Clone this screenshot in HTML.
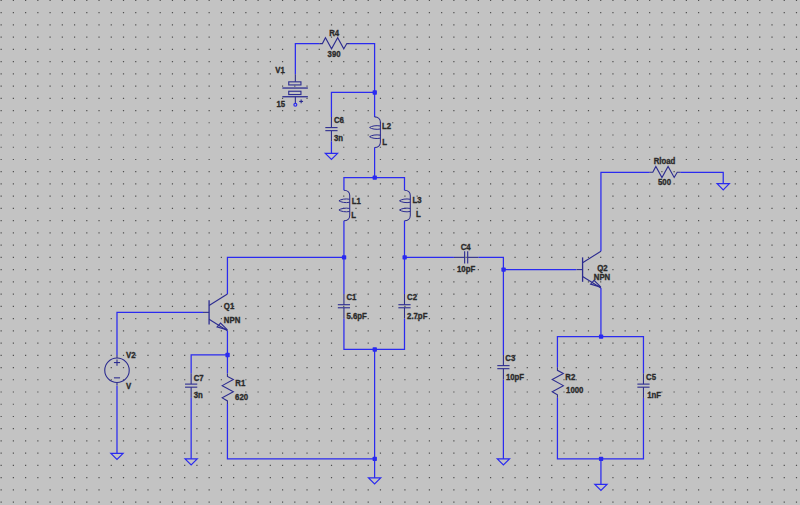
<!DOCTYPE html>
<html><head><meta charset="utf-8"><title>LTspice schematic</title>
<style>html,body{margin:0;padding:0;background:#c3c3c3;overflow:hidden;}svg{display:block;}</style>
</head><body>
<svg width="800" height="505" viewBox="0 0 800 505">
<rect width="800" height="505" fill="#c3c3c3"/>
<path d="M0.55 -0.21h1.2v1.2h-1.2zM0.55 12.03h1.2v1.2h-1.2zM0.55 24.26h1.2v1.2h-1.2zM0.55 36.50h1.2v1.2h-1.2zM0.55 48.74h1.2v1.2h-1.2zM0.55 60.98h1.2v1.2h-1.2zM0.55 73.22h1.2v1.2h-1.2zM0.55 85.45h1.2v1.2h-1.2zM0.55 97.69h1.2v1.2h-1.2zM0.55 109.93h1.2v1.2h-1.2zM0.55 122.17h1.2v1.2h-1.2zM0.55 134.41h1.2v1.2h-1.2zM0.55 146.64h1.2v1.2h-1.2zM0.55 158.88h1.2v1.2h-1.2zM0.55 171.12h1.2v1.2h-1.2zM0.55 183.36h1.2v1.2h-1.2zM0.55 195.60h1.2v1.2h-1.2zM0.55 207.83h1.2v1.2h-1.2zM0.55 220.07h1.2v1.2h-1.2zM0.55 232.31h1.2v1.2h-1.2zM0.55 244.55h1.2v1.2h-1.2zM0.55 256.79h1.2v1.2h-1.2zM0.55 269.02h1.2v1.2h-1.2zM0.55 281.26h1.2v1.2h-1.2zM0.55 293.50h1.2v1.2h-1.2zM0.55 305.74h1.2v1.2h-1.2zM0.55 317.98h1.2v1.2h-1.2zM0.55 330.21h1.2v1.2h-1.2zM0.55 342.45h1.2v1.2h-1.2zM0.55 354.69h1.2v1.2h-1.2zM0.55 366.93h1.2v1.2h-1.2zM0.55 379.17h1.2v1.2h-1.2zM0.55 391.40h1.2v1.2h-1.2zM0.55 403.64h1.2v1.2h-1.2zM0.55 415.88h1.2v1.2h-1.2zM0.55 428.12h1.2v1.2h-1.2zM0.55 440.36h1.2v1.2h-1.2zM0.55 452.59h1.2v1.2h-1.2zM0.55 464.83h1.2v1.2h-1.2zM0.55 477.07h1.2v1.2h-1.2zM0.55 489.31h1.2v1.2h-1.2zM0.55 501.55h1.2v1.2h-1.2zM12.78 -0.21h1.2v1.2h-1.2zM12.78 12.03h1.2v1.2h-1.2zM12.78 24.26h1.2v1.2h-1.2zM12.78 36.50h1.2v1.2h-1.2zM12.78 48.74h1.2v1.2h-1.2zM12.78 60.98h1.2v1.2h-1.2zM12.78 73.22h1.2v1.2h-1.2zM12.78 85.45h1.2v1.2h-1.2zM12.78 97.69h1.2v1.2h-1.2zM12.78 109.93h1.2v1.2h-1.2zM12.78 122.17h1.2v1.2h-1.2zM12.78 134.41h1.2v1.2h-1.2zM12.78 146.64h1.2v1.2h-1.2zM12.78 158.88h1.2v1.2h-1.2zM12.78 171.12h1.2v1.2h-1.2zM12.78 183.36h1.2v1.2h-1.2zM12.78 195.60h1.2v1.2h-1.2zM12.78 207.83h1.2v1.2h-1.2zM12.78 220.07h1.2v1.2h-1.2zM12.78 232.31h1.2v1.2h-1.2zM12.78 244.55h1.2v1.2h-1.2zM12.78 256.79h1.2v1.2h-1.2zM12.78 269.02h1.2v1.2h-1.2zM12.78 281.26h1.2v1.2h-1.2zM12.78 293.50h1.2v1.2h-1.2zM12.78 305.74h1.2v1.2h-1.2zM12.78 317.98h1.2v1.2h-1.2zM12.78 330.21h1.2v1.2h-1.2zM12.78 342.45h1.2v1.2h-1.2zM12.78 354.69h1.2v1.2h-1.2zM12.78 366.93h1.2v1.2h-1.2zM12.78 379.17h1.2v1.2h-1.2zM12.78 391.40h1.2v1.2h-1.2zM12.78 403.64h1.2v1.2h-1.2zM12.78 415.88h1.2v1.2h-1.2zM12.78 428.12h1.2v1.2h-1.2zM12.78 440.36h1.2v1.2h-1.2zM12.78 452.59h1.2v1.2h-1.2zM12.78 464.83h1.2v1.2h-1.2zM12.78 477.07h1.2v1.2h-1.2zM12.78 489.31h1.2v1.2h-1.2zM12.78 501.55h1.2v1.2h-1.2zM25.02 -0.21h1.2v1.2h-1.2zM25.02 12.03h1.2v1.2h-1.2zM25.02 24.26h1.2v1.2h-1.2zM25.02 36.50h1.2v1.2h-1.2zM25.02 48.74h1.2v1.2h-1.2zM25.02 60.98h1.2v1.2h-1.2zM25.02 73.22h1.2v1.2h-1.2zM25.02 85.45h1.2v1.2h-1.2zM25.02 97.69h1.2v1.2h-1.2zM25.02 109.93h1.2v1.2h-1.2zM25.02 122.17h1.2v1.2h-1.2zM25.02 134.41h1.2v1.2h-1.2zM25.02 146.64h1.2v1.2h-1.2zM25.02 158.88h1.2v1.2h-1.2zM25.02 171.12h1.2v1.2h-1.2zM25.02 183.36h1.2v1.2h-1.2zM25.02 195.60h1.2v1.2h-1.2zM25.02 207.83h1.2v1.2h-1.2zM25.02 220.07h1.2v1.2h-1.2zM25.02 232.31h1.2v1.2h-1.2zM25.02 244.55h1.2v1.2h-1.2zM25.02 256.79h1.2v1.2h-1.2zM25.02 269.02h1.2v1.2h-1.2zM25.02 281.26h1.2v1.2h-1.2zM25.02 293.50h1.2v1.2h-1.2zM25.02 305.74h1.2v1.2h-1.2zM25.02 317.98h1.2v1.2h-1.2zM25.02 330.21h1.2v1.2h-1.2zM25.02 342.45h1.2v1.2h-1.2zM25.02 354.69h1.2v1.2h-1.2zM25.02 366.93h1.2v1.2h-1.2zM25.02 379.17h1.2v1.2h-1.2zM25.02 391.40h1.2v1.2h-1.2zM25.02 403.64h1.2v1.2h-1.2zM25.02 415.88h1.2v1.2h-1.2zM25.02 428.12h1.2v1.2h-1.2zM25.02 440.36h1.2v1.2h-1.2zM25.02 452.59h1.2v1.2h-1.2zM25.02 464.83h1.2v1.2h-1.2zM25.02 477.07h1.2v1.2h-1.2zM25.02 489.31h1.2v1.2h-1.2zM25.02 501.55h1.2v1.2h-1.2zM37.25 -0.21h1.2v1.2h-1.2zM37.25 12.03h1.2v1.2h-1.2zM37.25 24.26h1.2v1.2h-1.2zM37.25 36.50h1.2v1.2h-1.2zM37.25 48.74h1.2v1.2h-1.2zM37.25 60.98h1.2v1.2h-1.2zM37.25 73.22h1.2v1.2h-1.2zM37.25 85.45h1.2v1.2h-1.2zM37.25 97.69h1.2v1.2h-1.2zM37.25 109.93h1.2v1.2h-1.2zM37.25 122.17h1.2v1.2h-1.2zM37.25 134.41h1.2v1.2h-1.2zM37.25 146.64h1.2v1.2h-1.2zM37.25 158.88h1.2v1.2h-1.2zM37.25 171.12h1.2v1.2h-1.2zM37.25 183.36h1.2v1.2h-1.2zM37.25 195.60h1.2v1.2h-1.2zM37.25 207.83h1.2v1.2h-1.2zM37.25 220.07h1.2v1.2h-1.2zM37.25 232.31h1.2v1.2h-1.2zM37.25 244.55h1.2v1.2h-1.2zM37.25 256.79h1.2v1.2h-1.2zM37.25 269.02h1.2v1.2h-1.2zM37.25 281.26h1.2v1.2h-1.2zM37.25 293.50h1.2v1.2h-1.2zM37.25 305.74h1.2v1.2h-1.2zM37.25 317.98h1.2v1.2h-1.2zM37.25 330.21h1.2v1.2h-1.2zM37.25 342.45h1.2v1.2h-1.2zM37.25 354.69h1.2v1.2h-1.2zM37.25 366.93h1.2v1.2h-1.2zM37.25 379.17h1.2v1.2h-1.2zM37.25 391.40h1.2v1.2h-1.2zM37.25 403.64h1.2v1.2h-1.2zM37.25 415.88h1.2v1.2h-1.2zM37.25 428.12h1.2v1.2h-1.2zM37.25 440.36h1.2v1.2h-1.2zM37.25 452.59h1.2v1.2h-1.2zM37.25 464.83h1.2v1.2h-1.2zM37.25 477.07h1.2v1.2h-1.2zM37.25 489.31h1.2v1.2h-1.2zM37.25 501.55h1.2v1.2h-1.2zM49.49 -0.21h1.2v1.2h-1.2zM49.49 12.03h1.2v1.2h-1.2zM49.49 24.26h1.2v1.2h-1.2zM49.49 36.50h1.2v1.2h-1.2zM49.49 48.74h1.2v1.2h-1.2zM49.49 60.98h1.2v1.2h-1.2zM49.49 73.22h1.2v1.2h-1.2zM49.49 85.45h1.2v1.2h-1.2zM49.49 97.69h1.2v1.2h-1.2zM49.49 109.93h1.2v1.2h-1.2zM49.49 122.17h1.2v1.2h-1.2zM49.49 134.41h1.2v1.2h-1.2zM49.49 146.64h1.2v1.2h-1.2zM49.49 158.88h1.2v1.2h-1.2zM49.49 171.12h1.2v1.2h-1.2zM49.49 183.36h1.2v1.2h-1.2zM49.49 195.60h1.2v1.2h-1.2zM49.49 207.83h1.2v1.2h-1.2zM49.49 220.07h1.2v1.2h-1.2zM49.49 232.31h1.2v1.2h-1.2zM49.49 244.55h1.2v1.2h-1.2zM49.49 256.79h1.2v1.2h-1.2zM49.49 269.02h1.2v1.2h-1.2zM49.49 281.26h1.2v1.2h-1.2zM49.49 293.50h1.2v1.2h-1.2zM49.49 305.74h1.2v1.2h-1.2zM49.49 317.98h1.2v1.2h-1.2zM49.49 330.21h1.2v1.2h-1.2zM49.49 342.45h1.2v1.2h-1.2zM49.49 354.69h1.2v1.2h-1.2zM49.49 366.93h1.2v1.2h-1.2zM49.49 379.17h1.2v1.2h-1.2zM49.49 391.40h1.2v1.2h-1.2zM49.49 403.64h1.2v1.2h-1.2zM49.49 415.88h1.2v1.2h-1.2zM49.49 428.12h1.2v1.2h-1.2zM49.49 440.36h1.2v1.2h-1.2zM49.49 452.59h1.2v1.2h-1.2zM49.49 464.83h1.2v1.2h-1.2zM49.49 477.07h1.2v1.2h-1.2zM49.49 489.31h1.2v1.2h-1.2zM49.49 501.55h1.2v1.2h-1.2zM61.73 -0.21h1.2v1.2h-1.2zM61.73 12.03h1.2v1.2h-1.2zM61.73 24.26h1.2v1.2h-1.2zM61.73 36.50h1.2v1.2h-1.2zM61.73 48.74h1.2v1.2h-1.2zM61.73 60.98h1.2v1.2h-1.2zM61.73 73.22h1.2v1.2h-1.2zM61.73 85.45h1.2v1.2h-1.2zM61.73 97.69h1.2v1.2h-1.2zM61.73 109.93h1.2v1.2h-1.2zM61.73 122.17h1.2v1.2h-1.2zM61.73 134.41h1.2v1.2h-1.2zM61.73 146.64h1.2v1.2h-1.2zM61.73 158.88h1.2v1.2h-1.2zM61.73 171.12h1.2v1.2h-1.2zM61.73 183.36h1.2v1.2h-1.2zM61.73 195.60h1.2v1.2h-1.2zM61.73 207.83h1.2v1.2h-1.2zM61.73 220.07h1.2v1.2h-1.2zM61.73 232.31h1.2v1.2h-1.2zM61.73 244.55h1.2v1.2h-1.2zM61.73 256.79h1.2v1.2h-1.2zM61.73 269.02h1.2v1.2h-1.2zM61.73 281.26h1.2v1.2h-1.2zM61.73 293.50h1.2v1.2h-1.2zM61.73 305.74h1.2v1.2h-1.2zM61.73 317.98h1.2v1.2h-1.2zM61.73 330.21h1.2v1.2h-1.2zM61.73 342.45h1.2v1.2h-1.2zM61.73 354.69h1.2v1.2h-1.2zM61.73 366.93h1.2v1.2h-1.2zM61.73 379.17h1.2v1.2h-1.2zM61.73 391.40h1.2v1.2h-1.2zM61.73 403.64h1.2v1.2h-1.2zM61.73 415.88h1.2v1.2h-1.2zM61.73 428.12h1.2v1.2h-1.2zM61.73 440.36h1.2v1.2h-1.2zM61.73 452.59h1.2v1.2h-1.2zM61.73 464.83h1.2v1.2h-1.2zM61.73 477.07h1.2v1.2h-1.2zM61.73 489.31h1.2v1.2h-1.2zM61.73 501.55h1.2v1.2h-1.2zM73.96 -0.21h1.2v1.2h-1.2zM73.96 12.03h1.2v1.2h-1.2zM73.96 24.26h1.2v1.2h-1.2zM73.96 36.50h1.2v1.2h-1.2zM73.96 48.74h1.2v1.2h-1.2zM73.96 60.98h1.2v1.2h-1.2zM73.96 73.22h1.2v1.2h-1.2zM73.96 85.45h1.2v1.2h-1.2zM73.96 97.69h1.2v1.2h-1.2zM73.96 109.93h1.2v1.2h-1.2zM73.96 122.17h1.2v1.2h-1.2zM73.96 134.41h1.2v1.2h-1.2zM73.96 146.64h1.2v1.2h-1.2zM73.96 158.88h1.2v1.2h-1.2zM73.96 171.12h1.2v1.2h-1.2zM73.96 183.36h1.2v1.2h-1.2zM73.96 195.60h1.2v1.2h-1.2zM73.96 207.83h1.2v1.2h-1.2zM73.96 220.07h1.2v1.2h-1.2zM73.96 232.31h1.2v1.2h-1.2zM73.96 244.55h1.2v1.2h-1.2zM73.96 256.79h1.2v1.2h-1.2zM73.96 269.02h1.2v1.2h-1.2zM73.96 281.26h1.2v1.2h-1.2zM73.96 293.50h1.2v1.2h-1.2zM73.96 305.74h1.2v1.2h-1.2zM73.96 317.98h1.2v1.2h-1.2zM73.96 330.21h1.2v1.2h-1.2zM73.96 342.45h1.2v1.2h-1.2zM73.96 354.69h1.2v1.2h-1.2zM73.96 366.93h1.2v1.2h-1.2zM73.96 379.17h1.2v1.2h-1.2zM73.96 391.40h1.2v1.2h-1.2zM73.96 403.64h1.2v1.2h-1.2zM73.96 415.88h1.2v1.2h-1.2zM73.96 428.12h1.2v1.2h-1.2zM73.96 440.36h1.2v1.2h-1.2zM73.96 452.59h1.2v1.2h-1.2zM73.96 464.83h1.2v1.2h-1.2zM73.96 477.07h1.2v1.2h-1.2zM73.96 489.31h1.2v1.2h-1.2zM73.96 501.55h1.2v1.2h-1.2zM86.20 -0.21h1.2v1.2h-1.2zM86.20 12.03h1.2v1.2h-1.2zM86.20 24.26h1.2v1.2h-1.2zM86.20 36.50h1.2v1.2h-1.2zM86.20 48.74h1.2v1.2h-1.2zM86.20 60.98h1.2v1.2h-1.2zM86.20 73.22h1.2v1.2h-1.2zM86.20 85.45h1.2v1.2h-1.2zM86.20 97.69h1.2v1.2h-1.2zM86.20 109.93h1.2v1.2h-1.2zM86.20 122.17h1.2v1.2h-1.2zM86.20 134.41h1.2v1.2h-1.2zM86.20 146.64h1.2v1.2h-1.2zM86.20 158.88h1.2v1.2h-1.2zM86.20 171.12h1.2v1.2h-1.2zM86.20 183.36h1.2v1.2h-1.2zM86.20 195.60h1.2v1.2h-1.2zM86.20 207.83h1.2v1.2h-1.2zM86.20 220.07h1.2v1.2h-1.2zM86.20 232.31h1.2v1.2h-1.2zM86.20 244.55h1.2v1.2h-1.2zM86.20 256.79h1.2v1.2h-1.2zM86.20 269.02h1.2v1.2h-1.2zM86.20 281.26h1.2v1.2h-1.2zM86.20 293.50h1.2v1.2h-1.2zM86.20 305.74h1.2v1.2h-1.2zM86.20 317.98h1.2v1.2h-1.2zM86.20 330.21h1.2v1.2h-1.2zM86.20 342.45h1.2v1.2h-1.2zM86.20 354.69h1.2v1.2h-1.2zM86.20 366.93h1.2v1.2h-1.2zM86.20 379.17h1.2v1.2h-1.2zM86.20 391.40h1.2v1.2h-1.2zM86.20 403.64h1.2v1.2h-1.2zM86.20 415.88h1.2v1.2h-1.2zM86.20 428.12h1.2v1.2h-1.2zM86.20 440.36h1.2v1.2h-1.2zM86.20 452.59h1.2v1.2h-1.2zM86.20 464.83h1.2v1.2h-1.2zM86.20 477.07h1.2v1.2h-1.2zM86.20 489.31h1.2v1.2h-1.2zM86.20 501.55h1.2v1.2h-1.2zM98.43 -0.21h1.2v1.2h-1.2zM98.43 12.03h1.2v1.2h-1.2zM98.43 24.26h1.2v1.2h-1.2zM98.43 36.50h1.2v1.2h-1.2zM98.43 48.74h1.2v1.2h-1.2zM98.43 60.98h1.2v1.2h-1.2zM98.43 73.22h1.2v1.2h-1.2zM98.43 85.45h1.2v1.2h-1.2zM98.43 97.69h1.2v1.2h-1.2zM98.43 109.93h1.2v1.2h-1.2zM98.43 122.17h1.2v1.2h-1.2zM98.43 134.41h1.2v1.2h-1.2zM98.43 146.64h1.2v1.2h-1.2zM98.43 158.88h1.2v1.2h-1.2zM98.43 171.12h1.2v1.2h-1.2zM98.43 183.36h1.2v1.2h-1.2zM98.43 195.60h1.2v1.2h-1.2zM98.43 207.83h1.2v1.2h-1.2zM98.43 220.07h1.2v1.2h-1.2zM98.43 232.31h1.2v1.2h-1.2zM98.43 244.55h1.2v1.2h-1.2zM98.43 256.79h1.2v1.2h-1.2zM98.43 269.02h1.2v1.2h-1.2zM98.43 281.26h1.2v1.2h-1.2zM98.43 293.50h1.2v1.2h-1.2zM98.43 305.74h1.2v1.2h-1.2zM98.43 317.98h1.2v1.2h-1.2zM98.43 330.21h1.2v1.2h-1.2zM98.43 342.45h1.2v1.2h-1.2zM98.43 354.69h1.2v1.2h-1.2zM98.43 366.93h1.2v1.2h-1.2zM98.43 379.17h1.2v1.2h-1.2zM98.43 391.40h1.2v1.2h-1.2zM98.43 403.64h1.2v1.2h-1.2zM98.43 415.88h1.2v1.2h-1.2zM98.43 428.12h1.2v1.2h-1.2zM98.43 440.36h1.2v1.2h-1.2zM98.43 452.59h1.2v1.2h-1.2zM98.43 464.83h1.2v1.2h-1.2zM98.43 477.07h1.2v1.2h-1.2zM98.43 489.31h1.2v1.2h-1.2zM98.43 501.55h1.2v1.2h-1.2zM110.67 -0.21h1.2v1.2h-1.2zM110.67 12.03h1.2v1.2h-1.2zM110.67 24.26h1.2v1.2h-1.2zM110.67 36.50h1.2v1.2h-1.2zM110.67 48.74h1.2v1.2h-1.2zM110.67 60.98h1.2v1.2h-1.2zM110.67 73.22h1.2v1.2h-1.2zM110.67 85.45h1.2v1.2h-1.2zM110.67 97.69h1.2v1.2h-1.2zM110.67 109.93h1.2v1.2h-1.2zM110.67 122.17h1.2v1.2h-1.2zM110.67 134.41h1.2v1.2h-1.2zM110.67 146.64h1.2v1.2h-1.2zM110.67 158.88h1.2v1.2h-1.2zM110.67 171.12h1.2v1.2h-1.2zM110.67 183.36h1.2v1.2h-1.2zM110.67 195.60h1.2v1.2h-1.2zM110.67 207.83h1.2v1.2h-1.2zM110.67 220.07h1.2v1.2h-1.2zM110.67 232.31h1.2v1.2h-1.2zM110.67 244.55h1.2v1.2h-1.2zM110.67 256.79h1.2v1.2h-1.2zM110.67 269.02h1.2v1.2h-1.2zM110.67 281.26h1.2v1.2h-1.2zM110.67 293.50h1.2v1.2h-1.2zM110.67 305.74h1.2v1.2h-1.2zM110.67 317.98h1.2v1.2h-1.2zM110.67 330.21h1.2v1.2h-1.2zM110.67 342.45h1.2v1.2h-1.2zM110.67 354.69h1.2v1.2h-1.2zM110.67 366.93h1.2v1.2h-1.2zM110.67 379.17h1.2v1.2h-1.2zM110.67 391.40h1.2v1.2h-1.2zM110.67 403.64h1.2v1.2h-1.2zM110.67 415.88h1.2v1.2h-1.2zM110.67 428.12h1.2v1.2h-1.2zM110.67 440.36h1.2v1.2h-1.2zM110.67 464.83h1.2v1.2h-1.2zM110.67 477.07h1.2v1.2h-1.2zM110.67 489.31h1.2v1.2h-1.2zM110.67 501.55h1.2v1.2h-1.2zM122.91 -0.21h1.2v1.2h-1.2zM122.91 12.03h1.2v1.2h-1.2zM122.91 24.26h1.2v1.2h-1.2zM122.91 36.50h1.2v1.2h-1.2zM122.91 48.74h1.2v1.2h-1.2zM122.91 60.98h1.2v1.2h-1.2zM122.91 73.22h1.2v1.2h-1.2zM122.91 85.45h1.2v1.2h-1.2zM122.91 97.69h1.2v1.2h-1.2zM122.91 109.93h1.2v1.2h-1.2zM122.91 122.17h1.2v1.2h-1.2zM122.91 134.41h1.2v1.2h-1.2zM122.91 146.64h1.2v1.2h-1.2zM122.91 158.88h1.2v1.2h-1.2zM122.91 171.12h1.2v1.2h-1.2zM122.91 183.36h1.2v1.2h-1.2zM122.91 195.60h1.2v1.2h-1.2zM122.91 207.83h1.2v1.2h-1.2zM122.91 220.07h1.2v1.2h-1.2zM122.91 232.31h1.2v1.2h-1.2zM122.91 244.55h1.2v1.2h-1.2zM122.91 256.79h1.2v1.2h-1.2zM122.91 269.02h1.2v1.2h-1.2zM122.91 281.26h1.2v1.2h-1.2zM122.91 293.50h1.2v1.2h-1.2zM122.91 305.74h1.2v1.2h-1.2zM122.91 317.98h1.2v1.2h-1.2zM122.91 330.21h1.2v1.2h-1.2zM122.91 342.45h1.2v1.2h-1.2zM122.91 354.69h1.2v1.2h-1.2zM122.91 366.93h1.2v1.2h-1.2zM122.91 379.17h1.2v1.2h-1.2zM122.91 391.40h1.2v1.2h-1.2zM122.91 403.64h1.2v1.2h-1.2zM122.91 415.88h1.2v1.2h-1.2zM122.91 428.12h1.2v1.2h-1.2zM122.91 440.36h1.2v1.2h-1.2zM122.91 464.83h1.2v1.2h-1.2zM122.91 477.07h1.2v1.2h-1.2zM122.91 489.31h1.2v1.2h-1.2zM122.91 501.55h1.2v1.2h-1.2zM135.14 -0.21h1.2v1.2h-1.2zM135.14 12.03h1.2v1.2h-1.2zM135.14 24.26h1.2v1.2h-1.2zM135.14 36.50h1.2v1.2h-1.2zM135.14 48.74h1.2v1.2h-1.2zM135.14 60.98h1.2v1.2h-1.2zM135.14 73.22h1.2v1.2h-1.2zM135.14 85.45h1.2v1.2h-1.2zM135.14 97.69h1.2v1.2h-1.2zM135.14 109.93h1.2v1.2h-1.2zM135.14 122.17h1.2v1.2h-1.2zM135.14 134.41h1.2v1.2h-1.2zM135.14 146.64h1.2v1.2h-1.2zM135.14 158.88h1.2v1.2h-1.2zM135.14 171.12h1.2v1.2h-1.2zM135.14 183.36h1.2v1.2h-1.2zM135.14 195.60h1.2v1.2h-1.2zM135.14 207.83h1.2v1.2h-1.2zM135.14 220.07h1.2v1.2h-1.2zM135.14 232.31h1.2v1.2h-1.2zM135.14 244.55h1.2v1.2h-1.2zM135.14 256.79h1.2v1.2h-1.2zM135.14 269.02h1.2v1.2h-1.2zM135.14 281.26h1.2v1.2h-1.2zM135.14 293.50h1.2v1.2h-1.2zM135.14 305.74h1.2v1.2h-1.2zM135.14 317.98h1.2v1.2h-1.2zM135.14 330.21h1.2v1.2h-1.2zM135.14 342.45h1.2v1.2h-1.2zM135.14 354.69h1.2v1.2h-1.2zM135.14 366.93h1.2v1.2h-1.2zM135.14 379.17h1.2v1.2h-1.2zM135.14 391.40h1.2v1.2h-1.2zM135.14 403.64h1.2v1.2h-1.2zM135.14 415.88h1.2v1.2h-1.2zM135.14 428.12h1.2v1.2h-1.2zM135.14 440.36h1.2v1.2h-1.2zM135.14 452.59h1.2v1.2h-1.2zM135.14 464.83h1.2v1.2h-1.2zM135.14 477.07h1.2v1.2h-1.2zM135.14 489.31h1.2v1.2h-1.2zM135.14 501.55h1.2v1.2h-1.2zM147.38 -0.21h1.2v1.2h-1.2zM147.38 12.03h1.2v1.2h-1.2zM147.38 24.26h1.2v1.2h-1.2zM147.38 36.50h1.2v1.2h-1.2zM147.38 48.74h1.2v1.2h-1.2zM147.38 60.98h1.2v1.2h-1.2zM147.38 73.22h1.2v1.2h-1.2zM147.38 85.45h1.2v1.2h-1.2zM147.38 97.69h1.2v1.2h-1.2zM147.38 109.93h1.2v1.2h-1.2zM147.38 122.17h1.2v1.2h-1.2zM147.38 134.41h1.2v1.2h-1.2zM147.38 146.64h1.2v1.2h-1.2zM147.38 158.88h1.2v1.2h-1.2zM147.38 171.12h1.2v1.2h-1.2zM147.38 183.36h1.2v1.2h-1.2zM147.38 195.60h1.2v1.2h-1.2zM147.38 207.83h1.2v1.2h-1.2zM147.38 220.07h1.2v1.2h-1.2zM147.38 232.31h1.2v1.2h-1.2zM147.38 244.55h1.2v1.2h-1.2zM147.38 256.79h1.2v1.2h-1.2zM147.38 269.02h1.2v1.2h-1.2zM147.38 281.26h1.2v1.2h-1.2zM147.38 293.50h1.2v1.2h-1.2zM147.38 305.74h1.2v1.2h-1.2zM147.38 317.98h1.2v1.2h-1.2zM147.38 330.21h1.2v1.2h-1.2zM147.38 342.45h1.2v1.2h-1.2zM147.38 354.69h1.2v1.2h-1.2zM147.38 366.93h1.2v1.2h-1.2zM147.38 379.17h1.2v1.2h-1.2zM147.38 391.40h1.2v1.2h-1.2zM147.38 403.64h1.2v1.2h-1.2zM147.38 415.88h1.2v1.2h-1.2zM147.38 428.12h1.2v1.2h-1.2zM147.38 440.36h1.2v1.2h-1.2zM147.38 452.59h1.2v1.2h-1.2zM147.38 464.83h1.2v1.2h-1.2zM147.38 477.07h1.2v1.2h-1.2zM147.38 489.31h1.2v1.2h-1.2zM147.38 501.55h1.2v1.2h-1.2zM159.61 -0.21h1.2v1.2h-1.2zM159.61 12.03h1.2v1.2h-1.2zM159.61 24.26h1.2v1.2h-1.2zM159.61 36.50h1.2v1.2h-1.2zM159.61 48.74h1.2v1.2h-1.2zM159.61 60.98h1.2v1.2h-1.2zM159.61 73.22h1.2v1.2h-1.2zM159.61 85.45h1.2v1.2h-1.2zM159.61 97.69h1.2v1.2h-1.2zM159.61 109.93h1.2v1.2h-1.2zM159.61 122.17h1.2v1.2h-1.2zM159.61 134.41h1.2v1.2h-1.2zM159.61 146.64h1.2v1.2h-1.2zM159.61 158.88h1.2v1.2h-1.2zM159.61 171.12h1.2v1.2h-1.2zM159.61 183.36h1.2v1.2h-1.2zM159.61 195.60h1.2v1.2h-1.2zM159.61 207.83h1.2v1.2h-1.2zM159.61 220.07h1.2v1.2h-1.2zM159.61 232.31h1.2v1.2h-1.2zM159.61 244.55h1.2v1.2h-1.2zM159.61 256.79h1.2v1.2h-1.2zM159.61 269.02h1.2v1.2h-1.2zM159.61 281.26h1.2v1.2h-1.2zM159.61 293.50h1.2v1.2h-1.2zM159.61 305.74h1.2v1.2h-1.2zM159.61 317.98h1.2v1.2h-1.2zM159.61 330.21h1.2v1.2h-1.2zM159.61 342.45h1.2v1.2h-1.2zM159.61 354.69h1.2v1.2h-1.2zM159.61 366.93h1.2v1.2h-1.2zM159.61 379.17h1.2v1.2h-1.2zM159.61 391.40h1.2v1.2h-1.2zM159.61 403.64h1.2v1.2h-1.2zM159.61 415.88h1.2v1.2h-1.2zM159.61 428.12h1.2v1.2h-1.2zM159.61 440.36h1.2v1.2h-1.2zM159.61 452.59h1.2v1.2h-1.2zM159.61 464.83h1.2v1.2h-1.2zM159.61 477.07h1.2v1.2h-1.2zM159.61 489.31h1.2v1.2h-1.2zM159.61 501.55h1.2v1.2h-1.2zM171.85 -0.21h1.2v1.2h-1.2zM171.85 12.03h1.2v1.2h-1.2zM171.85 24.26h1.2v1.2h-1.2zM171.85 36.50h1.2v1.2h-1.2zM171.85 48.74h1.2v1.2h-1.2zM171.85 60.98h1.2v1.2h-1.2zM171.85 73.22h1.2v1.2h-1.2zM171.85 85.45h1.2v1.2h-1.2zM171.85 97.69h1.2v1.2h-1.2zM171.85 109.93h1.2v1.2h-1.2zM171.85 122.17h1.2v1.2h-1.2zM171.85 134.41h1.2v1.2h-1.2zM171.85 146.64h1.2v1.2h-1.2zM171.85 158.88h1.2v1.2h-1.2zM171.85 171.12h1.2v1.2h-1.2zM171.85 183.36h1.2v1.2h-1.2zM171.85 195.60h1.2v1.2h-1.2zM171.85 207.83h1.2v1.2h-1.2zM171.85 220.07h1.2v1.2h-1.2zM171.85 232.31h1.2v1.2h-1.2zM171.85 244.55h1.2v1.2h-1.2zM171.85 256.79h1.2v1.2h-1.2zM171.85 269.02h1.2v1.2h-1.2zM171.85 281.26h1.2v1.2h-1.2zM171.85 293.50h1.2v1.2h-1.2zM171.85 305.74h1.2v1.2h-1.2zM171.85 317.98h1.2v1.2h-1.2zM171.85 330.21h1.2v1.2h-1.2zM171.85 342.45h1.2v1.2h-1.2zM171.85 354.69h1.2v1.2h-1.2zM171.85 366.93h1.2v1.2h-1.2zM171.85 379.17h1.2v1.2h-1.2zM171.85 391.40h1.2v1.2h-1.2zM171.85 403.64h1.2v1.2h-1.2zM171.85 415.88h1.2v1.2h-1.2zM171.85 428.12h1.2v1.2h-1.2zM171.85 440.36h1.2v1.2h-1.2zM171.85 452.59h1.2v1.2h-1.2zM171.85 464.83h1.2v1.2h-1.2zM171.85 477.07h1.2v1.2h-1.2zM171.85 489.31h1.2v1.2h-1.2zM171.85 501.55h1.2v1.2h-1.2zM184.09 -0.21h1.2v1.2h-1.2zM184.09 12.03h1.2v1.2h-1.2zM184.09 24.26h1.2v1.2h-1.2zM184.09 36.50h1.2v1.2h-1.2zM184.09 48.74h1.2v1.2h-1.2zM184.09 60.98h1.2v1.2h-1.2zM184.09 73.22h1.2v1.2h-1.2zM184.09 85.45h1.2v1.2h-1.2zM184.09 97.69h1.2v1.2h-1.2zM184.09 109.93h1.2v1.2h-1.2zM184.09 122.17h1.2v1.2h-1.2zM184.09 134.41h1.2v1.2h-1.2zM184.09 146.64h1.2v1.2h-1.2zM184.09 158.88h1.2v1.2h-1.2zM184.09 171.12h1.2v1.2h-1.2zM184.09 183.36h1.2v1.2h-1.2zM184.09 195.60h1.2v1.2h-1.2zM184.09 207.83h1.2v1.2h-1.2zM184.09 220.07h1.2v1.2h-1.2zM184.09 232.31h1.2v1.2h-1.2zM184.09 244.55h1.2v1.2h-1.2zM184.09 256.79h1.2v1.2h-1.2zM184.09 269.02h1.2v1.2h-1.2zM184.09 281.26h1.2v1.2h-1.2zM184.09 293.50h1.2v1.2h-1.2zM184.09 305.74h1.2v1.2h-1.2zM184.09 317.98h1.2v1.2h-1.2zM184.09 330.21h1.2v1.2h-1.2zM184.09 342.45h1.2v1.2h-1.2zM184.09 354.69h1.2v1.2h-1.2zM184.09 366.93h1.2v1.2h-1.2zM184.09 379.17h1.2v1.2h-1.2zM184.09 391.40h1.2v1.2h-1.2zM184.09 403.64h1.2v1.2h-1.2zM184.09 415.88h1.2v1.2h-1.2zM184.09 428.12h1.2v1.2h-1.2zM184.09 440.36h1.2v1.2h-1.2zM184.09 452.59h1.2v1.2h-1.2zM184.09 464.83h1.2v1.2h-1.2zM184.09 477.07h1.2v1.2h-1.2zM184.09 489.31h1.2v1.2h-1.2zM184.09 501.55h1.2v1.2h-1.2zM196.32 -0.21h1.2v1.2h-1.2zM196.32 12.03h1.2v1.2h-1.2zM196.32 24.26h1.2v1.2h-1.2zM196.32 36.50h1.2v1.2h-1.2zM196.32 48.74h1.2v1.2h-1.2zM196.32 60.98h1.2v1.2h-1.2zM196.32 73.22h1.2v1.2h-1.2zM196.32 85.45h1.2v1.2h-1.2zM196.32 97.69h1.2v1.2h-1.2zM196.32 109.93h1.2v1.2h-1.2zM196.32 122.17h1.2v1.2h-1.2zM196.32 134.41h1.2v1.2h-1.2zM196.32 146.64h1.2v1.2h-1.2zM196.32 158.88h1.2v1.2h-1.2zM196.32 171.12h1.2v1.2h-1.2zM196.32 183.36h1.2v1.2h-1.2zM196.32 195.60h1.2v1.2h-1.2zM196.32 207.83h1.2v1.2h-1.2zM196.32 220.07h1.2v1.2h-1.2zM196.32 232.31h1.2v1.2h-1.2zM196.32 244.55h1.2v1.2h-1.2zM196.32 256.79h1.2v1.2h-1.2zM196.32 269.02h1.2v1.2h-1.2zM196.32 281.26h1.2v1.2h-1.2zM196.32 293.50h1.2v1.2h-1.2zM196.32 305.74h1.2v1.2h-1.2zM196.32 317.98h1.2v1.2h-1.2zM196.32 330.21h1.2v1.2h-1.2zM196.32 342.45h1.2v1.2h-1.2zM196.32 366.93h1.2v1.2h-1.2zM196.32 379.17h1.2v1.2h-1.2zM196.32 391.40h1.2v1.2h-1.2zM196.32 403.64h1.2v1.2h-1.2zM196.32 415.88h1.2v1.2h-1.2zM196.32 428.12h1.2v1.2h-1.2zM196.32 440.36h1.2v1.2h-1.2zM196.32 452.59h1.2v1.2h-1.2zM196.32 464.83h1.2v1.2h-1.2zM196.32 477.07h1.2v1.2h-1.2zM196.32 489.31h1.2v1.2h-1.2zM196.32 501.55h1.2v1.2h-1.2zM208.56 -0.21h1.2v1.2h-1.2zM208.56 12.03h1.2v1.2h-1.2zM208.56 24.26h1.2v1.2h-1.2zM208.56 36.50h1.2v1.2h-1.2zM208.56 48.74h1.2v1.2h-1.2zM208.56 60.98h1.2v1.2h-1.2zM208.56 73.22h1.2v1.2h-1.2zM208.56 85.45h1.2v1.2h-1.2zM208.56 97.69h1.2v1.2h-1.2zM208.56 109.93h1.2v1.2h-1.2zM208.56 122.17h1.2v1.2h-1.2zM208.56 134.41h1.2v1.2h-1.2zM208.56 146.64h1.2v1.2h-1.2zM208.56 158.88h1.2v1.2h-1.2zM208.56 171.12h1.2v1.2h-1.2zM208.56 183.36h1.2v1.2h-1.2zM208.56 195.60h1.2v1.2h-1.2zM208.56 207.83h1.2v1.2h-1.2zM208.56 220.07h1.2v1.2h-1.2zM208.56 232.31h1.2v1.2h-1.2zM208.56 244.55h1.2v1.2h-1.2zM208.56 256.79h1.2v1.2h-1.2zM208.56 269.02h1.2v1.2h-1.2zM208.56 281.26h1.2v1.2h-1.2zM208.56 293.50h1.2v1.2h-1.2zM208.56 330.21h1.2v1.2h-1.2zM208.56 342.45h1.2v1.2h-1.2zM208.56 366.93h1.2v1.2h-1.2zM208.56 379.17h1.2v1.2h-1.2zM208.56 391.40h1.2v1.2h-1.2zM208.56 403.64h1.2v1.2h-1.2zM208.56 415.88h1.2v1.2h-1.2zM208.56 428.12h1.2v1.2h-1.2zM208.56 440.36h1.2v1.2h-1.2zM208.56 452.59h1.2v1.2h-1.2zM208.56 464.83h1.2v1.2h-1.2zM208.56 477.07h1.2v1.2h-1.2zM208.56 489.31h1.2v1.2h-1.2zM208.56 501.55h1.2v1.2h-1.2zM220.79 -0.21h1.2v1.2h-1.2zM220.79 12.03h1.2v1.2h-1.2zM220.79 24.26h1.2v1.2h-1.2zM220.79 36.50h1.2v1.2h-1.2zM220.79 48.74h1.2v1.2h-1.2zM220.79 60.98h1.2v1.2h-1.2zM220.79 73.22h1.2v1.2h-1.2zM220.79 85.45h1.2v1.2h-1.2zM220.79 97.69h1.2v1.2h-1.2zM220.79 109.93h1.2v1.2h-1.2zM220.79 122.17h1.2v1.2h-1.2zM220.79 134.41h1.2v1.2h-1.2zM220.79 146.64h1.2v1.2h-1.2zM220.79 158.88h1.2v1.2h-1.2zM220.79 171.12h1.2v1.2h-1.2zM220.79 183.36h1.2v1.2h-1.2zM220.79 195.60h1.2v1.2h-1.2zM220.79 207.83h1.2v1.2h-1.2zM220.79 220.07h1.2v1.2h-1.2zM220.79 232.31h1.2v1.2h-1.2zM220.79 244.55h1.2v1.2h-1.2zM220.79 256.79h1.2v1.2h-1.2zM220.79 269.02h1.2v1.2h-1.2zM220.79 281.26h1.2v1.2h-1.2zM220.79 293.50h1.2v1.2h-1.2zM220.79 305.74h1.2v1.2h-1.2zM220.79 317.98h1.2v1.2h-1.2zM220.79 330.21h1.2v1.2h-1.2zM220.79 342.45h1.2v1.2h-1.2zM220.79 366.93h1.2v1.2h-1.2zM220.79 379.17h1.2v1.2h-1.2zM220.79 391.40h1.2v1.2h-1.2zM220.79 403.64h1.2v1.2h-1.2zM220.79 415.88h1.2v1.2h-1.2zM220.79 428.12h1.2v1.2h-1.2zM220.79 440.36h1.2v1.2h-1.2zM220.79 452.59h1.2v1.2h-1.2zM220.79 464.83h1.2v1.2h-1.2zM220.79 477.07h1.2v1.2h-1.2zM220.79 489.31h1.2v1.2h-1.2zM220.79 501.55h1.2v1.2h-1.2zM233.03 -0.21h1.2v1.2h-1.2zM233.03 12.03h1.2v1.2h-1.2zM233.03 24.26h1.2v1.2h-1.2zM233.03 36.50h1.2v1.2h-1.2zM233.03 48.74h1.2v1.2h-1.2zM233.03 60.98h1.2v1.2h-1.2zM233.03 73.22h1.2v1.2h-1.2zM233.03 85.45h1.2v1.2h-1.2zM233.03 97.69h1.2v1.2h-1.2zM233.03 109.93h1.2v1.2h-1.2zM233.03 122.17h1.2v1.2h-1.2zM233.03 134.41h1.2v1.2h-1.2zM233.03 146.64h1.2v1.2h-1.2zM233.03 158.88h1.2v1.2h-1.2zM233.03 171.12h1.2v1.2h-1.2zM233.03 183.36h1.2v1.2h-1.2zM233.03 195.60h1.2v1.2h-1.2zM233.03 207.83h1.2v1.2h-1.2zM233.03 220.07h1.2v1.2h-1.2zM233.03 232.31h1.2v1.2h-1.2zM233.03 244.55h1.2v1.2h-1.2zM233.03 269.02h1.2v1.2h-1.2zM233.03 281.26h1.2v1.2h-1.2zM233.03 293.50h1.2v1.2h-1.2zM233.03 305.74h1.2v1.2h-1.2zM233.03 317.98h1.2v1.2h-1.2zM233.03 330.21h1.2v1.2h-1.2zM233.03 342.45h1.2v1.2h-1.2zM233.03 354.69h1.2v1.2h-1.2zM233.03 366.93h1.2v1.2h-1.2zM233.03 403.64h1.2v1.2h-1.2zM233.03 415.88h1.2v1.2h-1.2zM233.03 428.12h1.2v1.2h-1.2zM233.03 440.36h1.2v1.2h-1.2zM233.03 452.59h1.2v1.2h-1.2zM233.03 464.83h1.2v1.2h-1.2zM233.03 477.07h1.2v1.2h-1.2zM233.03 489.31h1.2v1.2h-1.2zM233.03 501.55h1.2v1.2h-1.2zM245.27 -0.21h1.2v1.2h-1.2zM245.27 12.03h1.2v1.2h-1.2zM245.27 24.26h1.2v1.2h-1.2zM245.27 36.50h1.2v1.2h-1.2zM245.27 48.74h1.2v1.2h-1.2zM245.27 60.98h1.2v1.2h-1.2zM245.27 73.22h1.2v1.2h-1.2zM245.27 85.45h1.2v1.2h-1.2zM245.27 97.69h1.2v1.2h-1.2zM245.27 109.93h1.2v1.2h-1.2zM245.27 122.17h1.2v1.2h-1.2zM245.27 134.41h1.2v1.2h-1.2zM245.27 146.64h1.2v1.2h-1.2zM245.27 158.88h1.2v1.2h-1.2zM245.27 171.12h1.2v1.2h-1.2zM245.27 183.36h1.2v1.2h-1.2zM245.27 195.60h1.2v1.2h-1.2zM245.27 207.83h1.2v1.2h-1.2zM245.27 220.07h1.2v1.2h-1.2zM245.27 232.31h1.2v1.2h-1.2zM245.27 244.55h1.2v1.2h-1.2zM245.27 269.02h1.2v1.2h-1.2zM245.27 281.26h1.2v1.2h-1.2zM245.27 293.50h1.2v1.2h-1.2zM245.27 305.74h1.2v1.2h-1.2zM245.27 317.98h1.2v1.2h-1.2zM245.27 330.21h1.2v1.2h-1.2zM245.27 342.45h1.2v1.2h-1.2zM245.27 354.69h1.2v1.2h-1.2zM245.27 366.93h1.2v1.2h-1.2zM245.27 379.17h1.2v1.2h-1.2zM245.27 391.40h1.2v1.2h-1.2zM245.27 403.64h1.2v1.2h-1.2zM245.27 415.88h1.2v1.2h-1.2zM245.27 428.12h1.2v1.2h-1.2zM245.27 440.36h1.2v1.2h-1.2zM245.27 452.59h1.2v1.2h-1.2zM245.27 464.83h1.2v1.2h-1.2zM245.27 477.07h1.2v1.2h-1.2zM245.27 489.31h1.2v1.2h-1.2zM245.27 501.55h1.2v1.2h-1.2zM257.50 -0.21h1.2v1.2h-1.2zM257.50 12.03h1.2v1.2h-1.2zM257.50 24.26h1.2v1.2h-1.2zM257.50 36.50h1.2v1.2h-1.2zM257.50 48.74h1.2v1.2h-1.2zM257.50 60.98h1.2v1.2h-1.2zM257.50 73.22h1.2v1.2h-1.2zM257.50 85.45h1.2v1.2h-1.2zM257.50 97.69h1.2v1.2h-1.2zM257.50 109.93h1.2v1.2h-1.2zM257.50 122.17h1.2v1.2h-1.2zM257.50 134.41h1.2v1.2h-1.2zM257.50 146.64h1.2v1.2h-1.2zM257.50 158.88h1.2v1.2h-1.2zM257.50 171.12h1.2v1.2h-1.2zM257.50 183.36h1.2v1.2h-1.2zM257.50 195.60h1.2v1.2h-1.2zM257.50 207.83h1.2v1.2h-1.2zM257.50 220.07h1.2v1.2h-1.2zM257.50 232.31h1.2v1.2h-1.2zM257.50 244.55h1.2v1.2h-1.2zM257.50 269.02h1.2v1.2h-1.2zM257.50 281.26h1.2v1.2h-1.2zM257.50 293.50h1.2v1.2h-1.2zM257.50 305.74h1.2v1.2h-1.2zM257.50 317.98h1.2v1.2h-1.2zM257.50 330.21h1.2v1.2h-1.2zM257.50 342.45h1.2v1.2h-1.2zM257.50 354.69h1.2v1.2h-1.2zM257.50 366.93h1.2v1.2h-1.2zM257.50 379.17h1.2v1.2h-1.2zM257.50 391.40h1.2v1.2h-1.2zM257.50 403.64h1.2v1.2h-1.2zM257.50 415.88h1.2v1.2h-1.2zM257.50 428.12h1.2v1.2h-1.2zM257.50 440.36h1.2v1.2h-1.2zM257.50 452.59h1.2v1.2h-1.2zM257.50 464.83h1.2v1.2h-1.2zM257.50 477.07h1.2v1.2h-1.2zM257.50 489.31h1.2v1.2h-1.2zM257.50 501.55h1.2v1.2h-1.2zM269.74 -0.21h1.2v1.2h-1.2zM269.74 12.03h1.2v1.2h-1.2zM269.74 24.26h1.2v1.2h-1.2zM269.74 36.50h1.2v1.2h-1.2zM269.74 48.74h1.2v1.2h-1.2zM269.74 60.98h1.2v1.2h-1.2zM269.74 73.22h1.2v1.2h-1.2zM269.74 85.45h1.2v1.2h-1.2zM269.74 97.69h1.2v1.2h-1.2zM269.74 109.93h1.2v1.2h-1.2zM269.74 122.17h1.2v1.2h-1.2zM269.74 134.41h1.2v1.2h-1.2zM269.74 146.64h1.2v1.2h-1.2zM269.74 158.88h1.2v1.2h-1.2zM269.74 171.12h1.2v1.2h-1.2zM269.74 183.36h1.2v1.2h-1.2zM269.74 195.60h1.2v1.2h-1.2zM269.74 207.83h1.2v1.2h-1.2zM269.74 220.07h1.2v1.2h-1.2zM269.74 232.31h1.2v1.2h-1.2zM269.74 244.55h1.2v1.2h-1.2zM269.74 269.02h1.2v1.2h-1.2zM269.74 281.26h1.2v1.2h-1.2zM269.74 293.50h1.2v1.2h-1.2zM269.74 305.74h1.2v1.2h-1.2zM269.74 317.98h1.2v1.2h-1.2zM269.74 330.21h1.2v1.2h-1.2zM269.74 342.45h1.2v1.2h-1.2zM269.74 354.69h1.2v1.2h-1.2zM269.74 366.93h1.2v1.2h-1.2zM269.74 379.17h1.2v1.2h-1.2zM269.74 391.40h1.2v1.2h-1.2zM269.74 403.64h1.2v1.2h-1.2zM269.74 415.88h1.2v1.2h-1.2zM269.74 428.12h1.2v1.2h-1.2zM269.74 440.36h1.2v1.2h-1.2zM269.74 452.59h1.2v1.2h-1.2zM269.74 464.83h1.2v1.2h-1.2zM269.74 477.07h1.2v1.2h-1.2zM269.74 489.31h1.2v1.2h-1.2zM269.74 501.55h1.2v1.2h-1.2zM281.97 -0.21h1.2v1.2h-1.2zM281.97 12.03h1.2v1.2h-1.2zM281.97 24.26h1.2v1.2h-1.2zM281.97 36.50h1.2v1.2h-1.2zM281.97 48.74h1.2v1.2h-1.2zM281.97 60.98h1.2v1.2h-1.2zM281.97 73.22h1.2v1.2h-1.2zM281.97 85.45h1.2v1.2h-1.2zM281.97 97.69h1.2v1.2h-1.2zM281.97 109.93h1.2v1.2h-1.2zM281.97 122.17h1.2v1.2h-1.2zM281.97 134.41h1.2v1.2h-1.2zM281.97 146.64h1.2v1.2h-1.2zM281.97 158.88h1.2v1.2h-1.2zM281.97 171.12h1.2v1.2h-1.2zM281.97 183.36h1.2v1.2h-1.2zM281.97 195.60h1.2v1.2h-1.2zM281.97 207.83h1.2v1.2h-1.2zM281.97 220.07h1.2v1.2h-1.2zM281.97 232.31h1.2v1.2h-1.2zM281.97 244.55h1.2v1.2h-1.2zM281.97 269.02h1.2v1.2h-1.2zM281.97 281.26h1.2v1.2h-1.2zM281.97 293.50h1.2v1.2h-1.2zM281.97 305.74h1.2v1.2h-1.2zM281.97 317.98h1.2v1.2h-1.2zM281.97 330.21h1.2v1.2h-1.2zM281.97 342.45h1.2v1.2h-1.2zM281.97 354.69h1.2v1.2h-1.2zM281.97 366.93h1.2v1.2h-1.2zM281.97 379.17h1.2v1.2h-1.2zM281.97 391.40h1.2v1.2h-1.2zM281.97 403.64h1.2v1.2h-1.2zM281.97 415.88h1.2v1.2h-1.2zM281.97 428.12h1.2v1.2h-1.2zM281.97 440.36h1.2v1.2h-1.2zM281.97 452.59h1.2v1.2h-1.2zM281.97 464.83h1.2v1.2h-1.2zM281.97 477.07h1.2v1.2h-1.2zM281.97 489.31h1.2v1.2h-1.2zM281.97 501.55h1.2v1.2h-1.2zM294.21 -0.21h1.2v1.2h-1.2zM294.21 12.03h1.2v1.2h-1.2zM294.21 24.26h1.2v1.2h-1.2zM294.21 36.50h1.2v1.2h-1.2zM294.21 85.45h1.2v1.2h-1.2zM294.21 109.93h1.2v1.2h-1.2zM294.21 122.17h1.2v1.2h-1.2zM294.21 134.41h1.2v1.2h-1.2zM294.21 146.64h1.2v1.2h-1.2zM294.21 158.88h1.2v1.2h-1.2zM294.21 171.12h1.2v1.2h-1.2zM294.21 183.36h1.2v1.2h-1.2zM294.21 195.60h1.2v1.2h-1.2zM294.21 207.83h1.2v1.2h-1.2zM294.21 220.07h1.2v1.2h-1.2zM294.21 232.31h1.2v1.2h-1.2zM294.21 244.55h1.2v1.2h-1.2zM294.21 269.02h1.2v1.2h-1.2zM294.21 281.26h1.2v1.2h-1.2zM294.21 293.50h1.2v1.2h-1.2zM294.21 305.74h1.2v1.2h-1.2zM294.21 317.98h1.2v1.2h-1.2zM294.21 330.21h1.2v1.2h-1.2zM294.21 342.45h1.2v1.2h-1.2zM294.21 354.69h1.2v1.2h-1.2zM294.21 366.93h1.2v1.2h-1.2zM294.21 379.17h1.2v1.2h-1.2zM294.21 391.40h1.2v1.2h-1.2zM294.21 403.64h1.2v1.2h-1.2zM294.21 415.88h1.2v1.2h-1.2zM294.21 428.12h1.2v1.2h-1.2zM294.21 440.36h1.2v1.2h-1.2zM294.21 452.59h1.2v1.2h-1.2zM294.21 464.83h1.2v1.2h-1.2zM294.21 477.07h1.2v1.2h-1.2zM294.21 489.31h1.2v1.2h-1.2zM294.21 501.55h1.2v1.2h-1.2zM306.44 -0.21h1.2v1.2h-1.2zM306.44 12.03h1.2v1.2h-1.2zM306.44 24.26h1.2v1.2h-1.2zM306.44 36.50h1.2v1.2h-1.2zM306.44 48.74h1.2v1.2h-1.2zM306.44 60.98h1.2v1.2h-1.2zM306.44 73.22h1.2v1.2h-1.2zM306.44 85.45h1.2v1.2h-1.2zM306.44 97.69h1.2v1.2h-1.2zM306.44 109.93h1.2v1.2h-1.2zM306.44 122.17h1.2v1.2h-1.2zM306.44 134.41h1.2v1.2h-1.2zM306.44 146.64h1.2v1.2h-1.2zM306.44 158.88h1.2v1.2h-1.2zM306.44 171.12h1.2v1.2h-1.2zM306.44 183.36h1.2v1.2h-1.2zM306.44 195.60h1.2v1.2h-1.2zM306.44 207.83h1.2v1.2h-1.2zM306.44 220.07h1.2v1.2h-1.2zM306.44 232.31h1.2v1.2h-1.2zM306.44 244.55h1.2v1.2h-1.2zM306.44 269.02h1.2v1.2h-1.2zM306.44 281.26h1.2v1.2h-1.2zM306.44 293.50h1.2v1.2h-1.2zM306.44 305.74h1.2v1.2h-1.2zM306.44 317.98h1.2v1.2h-1.2zM306.44 330.21h1.2v1.2h-1.2zM306.44 342.45h1.2v1.2h-1.2zM306.44 354.69h1.2v1.2h-1.2zM306.44 366.93h1.2v1.2h-1.2zM306.44 379.17h1.2v1.2h-1.2zM306.44 391.40h1.2v1.2h-1.2zM306.44 403.64h1.2v1.2h-1.2zM306.44 415.88h1.2v1.2h-1.2zM306.44 428.12h1.2v1.2h-1.2zM306.44 440.36h1.2v1.2h-1.2zM306.44 452.59h1.2v1.2h-1.2zM306.44 464.83h1.2v1.2h-1.2zM306.44 477.07h1.2v1.2h-1.2zM306.44 489.31h1.2v1.2h-1.2zM306.44 501.55h1.2v1.2h-1.2zM318.68 -0.21h1.2v1.2h-1.2zM318.68 12.03h1.2v1.2h-1.2zM318.68 24.26h1.2v1.2h-1.2zM318.68 36.50h1.2v1.2h-1.2zM318.68 48.74h1.2v1.2h-1.2zM318.68 60.98h1.2v1.2h-1.2zM318.68 73.22h1.2v1.2h-1.2zM318.68 85.45h1.2v1.2h-1.2zM318.68 97.69h1.2v1.2h-1.2zM318.68 109.93h1.2v1.2h-1.2zM318.68 122.17h1.2v1.2h-1.2zM318.68 134.41h1.2v1.2h-1.2zM318.68 146.64h1.2v1.2h-1.2zM318.68 158.88h1.2v1.2h-1.2zM318.68 171.12h1.2v1.2h-1.2zM318.68 183.36h1.2v1.2h-1.2zM318.68 195.60h1.2v1.2h-1.2zM318.68 207.83h1.2v1.2h-1.2zM318.68 220.07h1.2v1.2h-1.2zM318.68 232.31h1.2v1.2h-1.2zM318.68 244.55h1.2v1.2h-1.2zM318.68 269.02h1.2v1.2h-1.2zM318.68 281.26h1.2v1.2h-1.2zM318.68 293.50h1.2v1.2h-1.2zM318.68 305.74h1.2v1.2h-1.2zM318.68 317.98h1.2v1.2h-1.2zM318.68 330.21h1.2v1.2h-1.2zM318.68 342.45h1.2v1.2h-1.2zM318.68 354.69h1.2v1.2h-1.2zM318.68 366.93h1.2v1.2h-1.2zM318.68 379.17h1.2v1.2h-1.2zM318.68 391.40h1.2v1.2h-1.2zM318.68 403.64h1.2v1.2h-1.2zM318.68 415.88h1.2v1.2h-1.2zM318.68 428.12h1.2v1.2h-1.2zM318.68 440.36h1.2v1.2h-1.2zM318.68 452.59h1.2v1.2h-1.2zM318.68 464.83h1.2v1.2h-1.2zM318.68 477.07h1.2v1.2h-1.2zM318.68 489.31h1.2v1.2h-1.2zM318.68 501.55h1.2v1.2h-1.2zM330.92 -0.21h1.2v1.2h-1.2zM330.92 12.03h1.2v1.2h-1.2zM330.92 24.26h1.2v1.2h-1.2zM330.92 36.50h1.2v1.2h-1.2zM330.92 60.98h1.2v1.2h-1.2zM330.92 73.22h1.2v1.2h-1.2zM330.92 85.45h1.2v1.2h-1.2zM330.92 171.12h1.2v1.2h-1.2zM330.92 183.36h1.2v1.2h-1.2zM330.92 195.60h1.2v1.2h-1.2zM330.92 207.83h1.2v1.2h-1.2zM330.92 220.07h1.2v1.2h-1.2zM330.92 232.31h1.2v1.2h-1.2zM330.92 244.55h1.2v1.2h-1.2zM330.92 269.02h1.2v1.2h-1.2zM330.92 281.26h1.2v1.2h-1.2zM330.92 293.50h1.2v1.2h-1.2zM330.92 305.74h1.2v1.2h-1.2zM330.92 317.98h1.2v1.2h-1.2zM330.92 330.21h1.2v1.2h-1.2zM330.92 342.45h1.2v1.2h-1.2zM330.92 354.69h1.2v1.2h-1.2zM330.92 366.93h1.2v1.2h-1.2zM330.92 379.17h1.2v1.2h-1.2zM330.92 391.40h1.2v1.2h-1.2zM330.92 403.64h1.2v1.2h-1.2zM330.92 415.88h1.2v1.2h-1.2zM330.92 428.12h1.2v1.2h-1.2zM330.92 440.36h1.2v1.2h-1.2zM330.92 452.59h1.2v1.2h-1.2zM330.92 464.83h1.2v1.2h-1.2zM330.92 477.07h1.2v1.2h-1.2zM330.92 489.31h1.2v1.2h-1.2zM330.92 501.55h1.2v1.2h-1.2zM343.15 -0.21h1.2v1.2h-1.2zM343.15 12.03h1.2v1.2h-1.2zM343.15 24.26h1.2v1.2h-1.2zM343.15 36.50h1.2v1.2h-1.2zM343.15 60.98h1.2v1.2h-1.2zM343.15 73.22h1.2v1.2h-1.2zM343.15 85.45h1.2v1.2h-1.2zM343.15 97.69h1.2v1.2h-1.2zM343.15 109.93h1.2v1.2h-1.2zM343.15 122.17h1.2v1.2h-1.2zM343.15 134.41h1.2v1.2h-1.2zM343.15 146.64h1.2v1.2h-1.2zM343.15 158.88h1.2v1.2h-1.2zM343.15 171.12h1.2v1.2h-1.2zM343.15 195.60h1.2v1.2h-1.2zM343.15 207.83h1.2v1.2h-1.2zM343.15 305.74h1.2v1.2h-1.2zM343.15 354.69h1.2v1.2h-1.2zM343.15 366.93h1.2v1.2h-1.2zM343.15 379.17h1.2v1.2h-1.2zM343.15 391.40h1.2v1.2h-1.2zM343.15 403.64h1.2v1.2h-1.2zM343.15 415.88h1.2v1.2h-1.2zM343.15 428.12h1.2v1.2h-1.2zM343.15 440.36h1.2v1.2h-1.2zM343.15 452.59h1.2v1.2h-1.2zM343.15 464.83h1.2v1.2h-1.2zM343.15 477.07h1.2v1.2h-1.2zM343.15 489.31h1.2v1.2h-1.2zM343.15 501.55h1.2v1.2h-1.2zM355.39 -0.21h1.2v1.2h-1.2zM355.39 12.03h1.2v1.2h-1.2zM355.39 24.26h1.2v1.2h-1.2zM355.39 36.50h1.2v1.2h-1.2zM355.39 48.74h1.2v1.2h-1.2zM355.39 60.98h1.2v1.2h-1.2zM355.39 73.22h1.2v1.2h-1.2zM355.39 85.45h1.2v1.2h-1.2zM355.39 97.69h1.2v1.2h-1.2zM355.39 109.93h1.2v1.2h-1.2zM355.39 122.17h1.2v1.2h-1.2zM355.39 134.41h1.2v1.2h-1.2zM355.39 146.64h1.2v1.2h-1.2zM355.39 158.88h1.2v1.2h-1.2zM355.39 171.12h1.2v1.2h-1.2zM355.39 183.36h1.2v1.2h-1.2zM355.39 195.60h1.2v1.2h-1.2zM355.39 207.83h1.2v1.2h-1.2zM355.39 220.07h1.2v1.2h-1.2zM355.39 232.31h1.2v1.2h-1.2zM355.39 244.55h1.2v1.2h-1.2zM355.39 256.79h1.2v1.2h-1.2zM355.39 269.02h1.2v1.2h-1.2zM355.39 281.26h1.2v1.2h-1.2zM355.39 293.50h1.2v1.2h-1.2zM355.39 305.74h1.2v1.2h-1.2zM355.39 317.98h1.2v1.2h-1.2zM355.39 330.21h1.2v1.2h-1.2zM355.39 342.45h1.2v1.2h-1.2zM355.39 354.69h1.2v1.2h-1.2zM355.39 366.93h1.2v1.2h-1.2zM355.39 379.17h1.2v1.2h-1.2zM355.39 391.40h1.2v1.2h-1.2zM355.39 403.64h1.2v1.2h-1.2zM355.39 415.88h1.2v1.2h-1.2zM355.39 428.12h1.2v1.2h-1.2zM355.39 440.36h1.2v1.2h-1.2zM355.39 452.59h1.2v1.2h-1.2zM355.39 464.83h1.2v1.2h-1.2zM355.39 477.07h1.2v1.2h-1.2zM355.39 489.31h1.2v1.2h-1.2zM355.39 501.55h1.2v1.2h-1.2zM367.62 -0.21h1.2v1.2h-1.2zM367.62 12.03h1.2v1.2h-1.2zM367.62 24.26h1.2v1.2h-1.2zM367.62 36.50h1.2v1.2h-1.2zM367.62 48.74h1.2v1.2h-1.2zM367.62 60.98h1.2v1.2h-1.2zM367.62 73.22h1.2v1.2h-1.2zM367.62 85.45h1.2v1.2h-1.2zM367.62 97.69h1.2v1.2h-1.2zM367.62 109.93h1.2v1.2h-1.2zM367.62 122.17h1.2v1.2h-1.2zM367.62 134.41h1.2v1.2h-1.2zM367.62 146.64h1.2v1.2h-1.2zM367.62 158.88h1.2v1.2h-1.2zM367.62 171.12h1.2v1.2h-1.2zM367.62 183.36h1.2v1.2h-1.2zM367.62 195.60h1.2v1.2h-1.2zM367.62 207.83h1.2v1.2h-1.2zM367.62 220.07h1.2v1.2h-1.2zM367.62 232.31h1.2v1.2h-1.2zM367.62 244.55h1.2v1.2h-1.2zM367.62 256.79h1.2v1.2h-1.2zM367.62 269.02h1.2v1.2h-1.2zM367.62 281.26h1.2v1.2h-1.2zM367.62 293.50h1.2v1.2h-1.2zM367.62 305.74h1.2v1.2h-1.2zM367.62 317.98h1.2v1.2h-1.2zM367.62 330.21h1.2v1.2h-1.2zM367.62 342.45h1.2v1.2h-1.2zM367.62 354.69h1.2v1.2h-1.2zM367.62 366.93h1.2v1.2h-1.2zM367.62 379.17h1.2v1.2h-1.2zM367.62 391.40h1.2v1.2h-1.2zM367.62 403.64h1.2v1.2h-1.2zM367.62 415.88h1.2v1.2h-1.2zM367.62 428.12h1.2v1.2h-1.2zM367.62 440.36h1.2v1.2h-1.2zM367.62 452.59h1.2v1.2h-1.2zM367.62 464.83h1.2v1.2h-1.2zM367.62 489.31h1.2v1.2h-1.2zM367.62 501.55h1.2v1.2h-1.2zM379.86 -0.21h1.2v1.2h-1.2zM379.86 12.03h1.2v1.2h-1.2zM379.86 24.26h1.2v1.2h-1.2zM379.86 36.50h1.2v1.2h-1.2zM379.86 48.74h1.2v1.2h-1.2zM379.86 60.98h1.2v1.2h-1.2zM379.86 73.22h1.2v1.2h-1.2zM379.86 85.45h1.2v1.2h-1.2zM379.86 97.69h1.2v1.2h-1.2zM379.86 109.93h1.2v1.2h-1.2zM379.86 122.17h1.2v1.2h-1.2zM379.86 134.41h1.2v1.2h-1.2zM379.86 146.64h1.2v1.2h-1.2zM379.86 158.88h1.2v1.2h-1.2zM379.86 171.12h1.2v1.2h-1.2zM379.86 183.36h1.2v1.2h-1.2zM379.86 195.60h1.2v1.2h-1.2zM379.86 207.83h1.2v1.2h-1.2zM379.86 220.07h1.2v1.2h-1.2zM379.86 232.31h1.2v1.2h-1.2zM379.86 244.55h1.2v1.2h-1.2zM379.86 256.79h1.2v1.2h-1.2zM379.86 269.02h1.2v1.2h-1.2zM379.86 281.26h1.2v1.2h-1.2zM379.86 293.50h1.2v1.2h-1.2zM379.86 305.74h1.2v1.2h-1.2zM379.86 317.98h1.2v1.2h-1.2zM379.86 330.21h1.2v1.2h-1.2zM379.86 342.45h1.2v1.2h-1.2zM379.86 354.69h1.2v1.2h-1.2zM379.86 366.93h1.2v1.2h-1.2zM379.86 379.17h1.2v1.2h-1.2zM379.86 391.40h1.2v1.2h-1.2zM379.86 403.64h1.2v1.2h-1.2zM379.86 415.88h1.2v1.2h-1.2zM379.86 428.12h1.2v1.2h-1.2zM379.86 440.36h1.2v1.2h-1.2zM379.86 452.59h1.2v1.2h-1.2zM379.86 464.83h1.2v1.2h-1.2zM379.86 489.31h1.2v1.2h-1.2zM379.86 501.55h1.2v1.2h-1.2zM392.10 -0.21h1.2v1.2h-1.2zM392.10 12.03h1.2v1.2h-1.2zM392.10 24.26h1.2v1.2h-1.2zM392.10 36.50h1.2v1.2h-1.2zM392.10 48.74h1.2v1.2h-1.2zM392.10 60.98h1.2v1.2h-1.2zM392.10 73.22h1.2v1.2h-1.2zM392.10 85.45h1.2v1.2h-1.2zM392.10 97.69h1.2v1.2h-1.2zM392.10 109.93h1.2v1.2h-1.2zM392.10 122.17h1.2v1.2h-1.2zM392.10 134.41h1.2v1.2h-1.2zM392.10 146.64h1.2v1.2h-1.2zM392.10 158.88h1.2v1.2h-1.2zM392.10 171.12h1.2v1.2h-1.2zM392.10 183.36h1.2v1.2h-1.2zM392.10 195.60h1.2v1.2h-1.2zM392.10 207.83h1.2v1.2h-1.2zM392.10 220.07h1.2v1.2h-1.2zM392.10 232.31h1.2v1.2h-1.2zM392.10 244.55h1.2v1.2h-1.2zM392.10 256.79h1.2v1.2h-1.2zM392.10 269.02h1.2v1.2h-1.2zM392.10 281.26h1.2v1.2h-1.2zM392.10 293.50h1.2v1.2h-1.2zM392.10 305.74h1.2v1.2h-1.2zM392.10 317.98h1.2v1.2h-1.2zM392.10 330.21h1.2v1.2h-1.2zM392.10 342.45h1.2v1.2h-1.2zM392.10 354.69h1.2v1.2h-1.2zM392.10 366.93h1.2v1.2h-1.2zM392.10 379.17h1.2v1.2h-1.2zM392.10 391.40h1.2v1.2h-1.2zM392.10 403.64h1.2v1.2h-1.2zM392.10 415.88h1.2v1.2h-1.2zM392.10 428.12h1.2v1.2h-1.2zM392.10 440.36h1.2v1.2h-1.2zM392.10 452.59h1.2v1.2h-1.2zM392.10 464.83h1.2v1.2h-1.2zM392.10 477.07h1.2v1.2h-1.2zM392.10 489.31h1.2v1.2h-1.2zM392.10 501.55h1.2v1.2h-1.2zM404.33 -0.21h1.2v1.2h-1.2zM404.33 12.03h1.2v1.2h-1.2zM404.33 24.26h1.2v1.2h-1.2zM404.33 36.50h1.2v1.2h-1.2zM404.33 48.74h1.2v1.2h-1.2zM404.33 60.98h1.2v1.2h-1.2zM404.33 73.22h1.2v1.2h-1.2zM404.33 85.45h1.2v1.2h-1.2zM404.33 97.69h1.2v1.2h-1.2zM404.33 109.93h1.2v1.2h-1.2zM404.33 122.17h1.2v1.2h-1.2zM404.33 134.41h1.2v1.2h-1.2zM404.33 146.64h1.2v1.2h-1.2zM404.33 158.88h1.2v1.2h-1.2zM404.33 171.12h1.2v1.2h-1.2zM404.33 195.60h1.2v1.2h-1.2zM404.33 207.83h1.2v1.2h-1.2zM404.33 305.74h1.2v1.2h-1.2zM404.33 354.69h1.2v1.2h-1.2zM404.33 366.93h1.2v1.2h-1.2zM404.33 379.17h1.2v1.2h-1.2zM404.33 391.40h1.2v1.2h-1.2zM404.33 403.64h1.2v1.2h-1.2zM404.33 415.88h1.2v1.2h-1.2zM404.33 428.12h1.2v1.2h-1.2zM404.33 440.36h1.2v1.2h-1.2zM404.33 452.59h1.2v1.2h-1.2zM404.33 464.83h1.2v1.2h-1.2zM404.33 477.07h1.2v1.2h-1.2zM404.33 489.31h1.2v1.2h-1.2zM404.33 501.55h1.2v1.2h-1.2zM416.57 -0.21h1.2v1.2h-1.2zM416.57 12.03h1.2v1.2h-1.2zM416.57 24.26h1.2v1.2h-1.2zM416.57 36.50h1.2v1.2h-1.2zM416.57 48.74h1.2v1.2h-1.2zM416.57 60.98h1.2v1.2h-1.2zM416.57 73.22h1.2v1.2h-1.2zM416.57 85.45h1.2v1.2h-1.2zM416.57 97.69h1.2v1.2h-1.2zM416.57 109.93h1.2v1.2h-1.2zM416.57 122.17h1.2v1.2h-1.2zM416.57 134.41h1.2v1.2h-1.2zM416.57 146.64h1.2v1.2h-1.2zM416.57 158.88h1.2v1.2h-1.2zM416.57 171.12h1.2v1.2h-1.2zM416.57 183.36h1.2v1.2h-1.2zM416.57 195.60h1.2v1.2h-1.2zM416.57 207.83h1.2v1.2h-1.2zM416.57 220.07h1.2v1.2h-1.2zM416.57 232.31h1.2v1.2h-1.2zM416.57 244.55h1.2v1.2h-1.2zM416.57 269.02h1.2v1.2h-1.2zM416.57 281.26h1.2v1.2h-1.2zM416.57 293.50h1.2v1.2h-1.2zM416.57 305.74h1.2v1.2h-1.2zM416.57 317.98h1.2v1.2h-1.2zM416.57 330.21h1.2v1.2h-1.2zM416.57 342.45h1.2v1.2h-1.2zM416.57 354.69h1.2v1.2h-1.2zM416.57 366.93h1.2v1.2h-1.2zM416.57 379.17h1.2v1.2h-1.2zM416.57 391.40h1.2v1.2h-1.2zM416.57 403.64h1.2v1.2h-1.2zM416.57 415.88h1.2v1.2h-1.2zM416.57 428.12h1.2v1.2h-1.2zM416.57 440.36h1.2v1.2h-1.2zM416.57 452.59h1.2v1.2h-1.2zM416.57 464.83h1.2v1.2h-1.2zM416.57 477.07h1.2v1.2h-1.2zM416.57 489.31h1.2v1.2h-1.2zM416.57 501.55h1.2v1.2h-1.2zM428.81 -0.21h1.2v1.2h-1.2zM428.81 12.03h1.2v1.2h-1.2zM428.81 24.26h1.2v1.2h-1.2zM428.81 36.50h1.2v1.2h-1.2zM428.81 48.74h1.2v1.2h-1.2zM428.81 60.98h1.2v1.2h-1.2zM428.81 73.22h1.2v1.2h-1.2zM428.81 85.45h1.2v1.2h-1.2zM428.81 97.69h1.2v1.2h-1.2zM428.81 109.93h1.2v1.2h-1.2zM428.81 122.17h1.2v1.2h-1.2zM428.81 134.41h1.2v1.2h-1.2zM428.81 146.64h1.2v1.2h-1.2zM428.81 158.88h1.2v1.2h-1.2zM428.81 171.12h1.2v1.2h-1.2zM428.81 183.36h1.2v1.2h-1.2zM428.81 195.60h1.2v1.2h-1.2zM428.81 207.83h1.2v1.2h-1.2zM428.81 220.07h1.2v1.2h-1.2zM428.81 232.31h1.2v1.2h-1.2zM428.81 244.55h1.2v1.2h-1.2zM428.81 269.02h1.2v1.2h-1.2zM428.81 281.26h1.2v1.2h-1.2zM428.81 293.50h1.2v1.2h-1.2zM428.81 305.74h1.2v1.2h-1.2zM428.81 317.98h1.2v1.2h-1.2zM428.81 330.21h1.2v1.2h-1.2zM428.81 342.45h1.2v1.2h-1.2zM428.81 354.69h1.2v1.2h-1.2zM428.81 366.93h1.2v1.2h-1.2zM428.81 379.17h1.2v1.2h-1.2zM428.81 391.40h1.2v1.2h-1.2zM428.81 403.64h1.2v1.2h-1.2zM428.81 415.88h1.2v1.2h-1.2zM428.81 428.12h1.2v1.2h-1.2zM428.81 440.36h1.2v1.2h-1.2zM428.81 452.59h1.2v1.2h-1.2zM428.81 464.83h1.2v1.2h-1.2zM428.81 477.07h1.2v1.2h-1.2zM428.81 489.31h1.2v1.2h-1.2zM428.81 501.55h1.2v1.2h-1.2zM441.04 -0.21h1.2v1.2h-1.2zM441.04 12.03h1.2v1.2h-1.2zM441.04 24.26h1.2v1.2h-1.2zM441.04 36.50h1.2v1.2h-1.2zM441.04 48.74h1.2v1.2h-1.2zM441.04 60.98h1.2v1.2h-1.2zM441.04 73.22h1.2v1.2h-1.2zM441.04 85.45h1.2v1.2h-1.2zM441.04 97.69h1.2v1.2h-1.2zM441.04 109.93h1.2v1.2h-1.2zM441.04 122.17h1.2v1.2h-1.2zM441.04 134.41h1.2v1.2h-1.2zM441.04 146.64h1.2v1.2h-1.2zM441.04 158.88h1.2v1.2h-1.2zM441.04 171.12h1.2v1.2h-1.2zM441.04 183.36h1.2v1.2h-1.2zM441.04 195.60h1.2v1.2h-1.2zM441.04 207.83h1.2v1.2h-1.2zM441.04 220.07h1.2v1.2h-1.2zM441.04 232.31h1.2v1.2h-1.2zM441.04 244.55h1.2v1.2h-1.2zM441.04 269.02h1.2v1.2h-1.2zM441.04 281.26h1.2v1.2h-1.2zM441.04 293.50h1.2v1.2h-1.2zM441.04 305.74h1.2v1.2h-1.2zM441.04 317.98h1.2v1.2h-1.2zM441.04 330.21h1.2v1.2h-1.2zM441.04 342.45h1.2v1.2h-1.2zM441.04 354.69h1.2v1.2h-1.2zM441.04 366.93h1.2v1.2h-1.2zM441.04 379.17h1.2v1.2h-1.2zM441.04 391.40h1.2v1.2h-1.2zM441.04 403.64h1.2v1.2h-1.2zM441.04 415.88h1.2v1.2h-1.2zM441.04 428.12h1.2v1.2h-1.2zM441.04 440.36h1.2v1.2h-1.2zM441.04 452.59h1.2v1.2h-1.2zM441.04 464.83h1.2v1.2h-1.2zM441.04 477.07h1.2v1.2h-1.2zM441.04 489.31h1.2v1.2h-1.2zM441.04 501.55h1.2v1.2h-1.2zM453.28 -0.21h1.2v1.2h-1.2zM453.28 12.03h1.2v1.2h-1.2zM453.28 24.26h1.2v1.2h-1.2zM453.28 36.50h1.2v1.2h-1.2zM453.28 48.74h1.2v1.2h-1.2zM453.28 60.98h1.2v1.2h-1.2zM453.28 73.22h1.2v1.2h-1.2zM453.28 85.45h1.2v1.2h-1.2zM453.28 97.69h1.2v1.2h-1.2zM453.28 109.93h1.2v1.2h-1.2zM453.28 122.17h1.2v1.2h-1.2zM453.28 134.41h1.2v1.2h-1.2zM453.28 146.64h1.2v1.2h-1.2zM453.28 158.88h1.2v1.2h-1.2zM453.28 171.12h1.2v1.2h-1.2zM453.28 183.36h1.2v1.2h-1.2zM453.28 195.60h1.2v1.2h-1.2zM453.28 207.83h1.2v1.2h-1.2zM453.28 220.07h1.2v1.2h-1.2zM453.28 232.31h1.2v1.2h-1.2zM453.28 244.55h1.2v1.2h-1.2zM453.28 269.02h1.2v1.2h-1.2zM453.28 281.26h1.2v1.2h-1.2zM453.28 293.50h1.2v1.2h-1.2zM453.28 305.74h1.2v1.2h-1.2zM453.28 317.98h1.2v1.2h-1.2zM453.28 330.21h1.2v1.2h-1.2zM453.28 342.45h1.2v1.2h-1.2zM453.28 354.69h1.2v1.2h-1.2zM453.28 366.93h1.2v1.2h-1.2zM453.28 379.17h1.2v1.2h-1.2zM453.28 391.40h1.2v1.2h-1.2zM453.28 403.64h1.2v1.2h-1.2zM453.28 415.88h1.2v1.2h-1.2zM453.28 428.12h1.2v1.2h-1.2zM453.28 440.36h1.2v1.2h-1.2zM453.28 452.59h1.2v1.2h-1.2zM453.28 464.83h1.2v1.2h-1.2zM453.28 477.07h1.2v1.2h-1.2zM453.28 489.31h1.2v1.2h-1.2zM453.28 501.55h1.2v1.2h-1.2zM465.51 -0.21h1.2v1.2h-1.2zM465.51 12.03h1.2v1.2h-1.2zM465.51 24.26h1.2v1.2h-1.2zM465.51 36.50h1.2v1.2h-1.2zM465.51 48.74h1.2v1.2h-1.2zM465.51 60.98h1.2v1.2h-1.2zM465.51 73.22h1.2v1.2h-1.2zM465.51 85.45h1.2v1.2h-1.2zM465.51 97.69h1.2v1.2h-1.2zM465.51 109.93h1.2v1.2h-1.2zM465.51 122.17h1.2v1.2h-1.2zM465.51 134.41h1.2v1.2h-1.2zM465.51 146.64h1.2v1.2h-1.2zM465.51 158.88h1.2v1.2h-1.2zM465.51 171.12h1.2v1.2h-1.2zM465.51 183.36h1.2v1.2h-1.2zM465.51 195.60h1.2v1.2h-1.2zM465.51 207.83h1.2v1.2h-1.2zM465.51 220.07h1.2v1.2h-1.2zM465.51 232.31h1.2v1.2h-1.2zM465.51 244.55h1.2v1.2h-1.2zM465.51 256.79h1.2v1.2h-1.2zM465.51 269.02h1.2v1.2h-1.2zM465.51 281.26h1.2v1.2h-1.2zM465.51 293.50h1.2v1.2h-1.2zM465.51 305.74h1.2v1.2h-1.2zM465.51 317.98h1.2v1.2h-1.2zM465.51 330.21h1.2v1.2h-1.2zM465.51 342.45h1.2v1.2h-1.2zM465.51 354.69h1.2v1.2h-1.2zM465.51 366.93h1.2v1.2h-1.2zM465.51 379.17h1.2v1.2h-1.2zM465.51 391.40h1.2v1.2h-1.2zM465.51 403.64h1.2v1.2h-1.2zM465.51 415.88h1.2v1.2h-1.2zM465.51 428.12h1.2v1.2h-1.2zM465.51 440.36h1.2v1.2h-1.2zM465.51 452.59h1.2v1.2h-1.2zM465.51 464.83h1.2v1.2h-1.2zM465.51 477.07h1.2v1.2h-1.2zM465.51 489.31h1.2v1.2h-1.2zM465.51 501.55h1.2v1.2h-1.2zM477.75 -0.21h1.2v1.2h-1.2zM477.75 12.03h1.2v1.2h-1.2zM477.75 24.26h1.2v1.2h-1.2zM477.75 36.50h1.2v1.2h-1.2zM477.75 48.74h1.2v1.2h-1.2zM477.75 60.98h1.2v1.2h-1.2zM477.75 73.22h1.2v1.2h-1.2zM477.75 85.45h1.2v1.2h-1.2zM477.75 97.69h1.2v1.2h-1.2zM477.75 109.93h1.2v1.2h-1.2zM477.75 122.17h1.2v1.2h-1.2zM477.75 134.41h1.2v1.2h-1.2zM477.75 146.64h1.2v1.2h-1.2zM477.75 158.88h1.2v1.2h-1.2zM477.75 171.12h1.2v1.2h-1.2zM477.75 183.36h1.2v1.2h-1.2zM477.75 195.60h1.2v1.2h-1.2zM477.75 207.83h1.2v1.2h-1.2zM477.75 220.07h1.2v1.2h-1.2zM477.75 232.31h1.2v1.2h-1.2zM477.75 244.55h1.2v1.2h-1.2zM477.75 269.02h1.2v1.2h-1.2zM477.75 281.26h1.2v1.2h-1.2zM477.75 293.50h1.2v1.2h-1.2zM477.75 305.74h1.2v1.2h-1.2zM477.75 317.98h1.2v1.2h-1.2zM477.75 330.21h1.2v1.2h-1.2zM477.75 342.45h1.2v1.2h-1.2zM477.75 354.69h1.2v1.2h-1.2zM477.75 366.93h1.2v1.2h-1.2zM477.75 379.17h1.2v1.2h-1.2zM477.75 391.40h1.2v1.2h-1.2zM477.75 403.64h1.2v1.2h-1.2zM477.75 415.88h1.2v1.2h-1.2zM477.75 428.12h1.2v1.2h-1.2zM477.75 440.36h1.2v1.2h-1.2zM477.75 452.59h1.2v1.2h-1.2zM477.75 464.83h1.2v1.2h-1.2zM477.75 477.07h1.2v1.2h-1.2zM477.75 489.31h1.2v1.2h-1.2zM477.75 501.55h1.2v1.2h-1.2zM489.99 -0.21h1.2v1.2h-1.2zM489.99 12.03h1.2v1.2h-1.2zM489.99 24.26h1.2v1.2h-1.2zM489.99 36.50h1.2v1.2h-1.2zM489.99 48.74h1.2v1.2h-1.2zM489.99 60.98h1.2v1.2h-1.2zM489.99 73.22h1.2v1.2h-1.2zM489.99 85.45h1.2v1.2h-1.2zM489.99 97.69h1.2v1.2h-1.2zM489.99 109.93h1.2v1.2h-1.2zM489.99 122.17h1.2v1.2h-1.2zM489.99 134.41h1.2v1.2h-1.2zM489.99 146.64h1.2v1.2h-1.2zM489.99 158.88h1.2v1.2h-1.2zM489.99 171.12h1.2v1.2h-1.2zM489.99 183.36h1.2v1.2h-1.2zM489.99 195.60h1.2v1.2h-1.2zM489.99 207.83h1.2v1.2h-1.2zM489.99 220.07h1.2v1.2h-1.2zM489.99 232.31h1.2v1.2h-1.2zM489.99 244.55h1.2v1.2h-1.2zM489.99 269.02h1.2v1.2h-1.2zM489.99 281.26h1.2v1.2h-1.2zM489.99 293.50h1.2v1.2h-1.2zM489.99 305.74h1.2v1.2h-1.2zM489.99 317.98h1.2v1.2h-1.2zM489.99 330.21h1.2v1.2h-1.2zM489.99 342.45h1.2v1.2h-1.2zM489.99 354.69h1.2v1.2h-1.2zM489.99 366.93h1.2v1.2h-1.2zM489.99 379.17h1.2v1.2h-1.2zM489.99 391.40h1.2v1.2h-1.2zM489.99 403.64h1.2v1.2h-1.2zM489.99 415.88h1.2v1.2h-1.2zM489.99 428.12h1.2v1.2h-1.2zM489.99 440.36h1.2v1.2h-1.2zM489.99 452.59h1.2v1.2h-1.2zM489.99 464.83h1.2v1.2h-1.2zM489.99 477.07h1.2v1.2h-1.2zM489.99 489.31h1.2v1.2h-1.2zM489.99 501.55h1.2v1.2h-1.2zM502.22 -0.21h1.2v1.2h-1.2zM502.22 12.03h1.2v1.2h-1.2zM502.22 24.26h1.2v1.2h-1.2zM502.22 36.50h1.2v1.2h-1.2zM502.22 48.74h1.2v1.2h-1.2zM502.22 60.98h1.2v1.2h-1.2zM502.22 73.22h1.2v1.2h-1.2zM502.22 85.45h1.2v1.2h-1.2zM502.22 97.69h1.2v1.2h-1.2zM502.22 109.93h1.2v1.2h-1.2zM502.22 122.17h1.2v1.2h-1.2zM502.22 134.41h1.2v1.2h-1.2zM502.22 146.64h1.2v1.2h-1.2zM502.22 158.88h1.2v1.2h-1.2zM502.22 171.12h1.2v1.2h-1.2zM502.22 183.36h1.2v1.2h-1.2zM502.22 195.60h1.2v1.2h-1.2zM502.22 207.83h1.2v1.2h-1.2zM502.22 220.07h1.2v1.2h-1.2zM502.22 232.31h1.2v1.2h-1.2zM502.22 244.55h1.2v1.2h-1.2zM502.22 477.07h1.2v1.2h-1.2zM502.22 489.31h1.2v1.2h-1.2zM502.22 501.55h1.2v1.2h-1.2zM514.46 -0.21h1.2v1.2h-1.2zM514.46 12.03h1.2v1.2h-1.2zM514.46 24.26h1.2v1.2h-1.2zM514.46 36.50h1.2v1.2h-1.2zM514.46 48.74h1.2v1.2h-1.2zM514.46 60.98h1.2v1.2h-1.2zM514.46 73.22h1.2v1.2h-1.2zM514.46 85.45h1.2v1.2h-1.2zM514.46 97.69h1.2v1.2h-1.2zM514.46 109.93h1.2v1.2h-1.2zM514.46 122.17h1.2v1.2h-1.2zM514.46 134.41h1.2v1.2h-1.2zM514.46 146.64h1.2v1.2h-1.2zM514.46 158.88h1.2v1.2h-1.2zM514.46 171.12h1.2v1.2h-1.2zM514.46 183.36h1.2v1.2h-1.2zM514.46 195.60h1.2v1.2h-1.2zM514.46 207.83h1.2v1.2h-1.2zM514.46 220.07h1.2v1.2h-1.2zM514.46 232.31h1.2v1.2h-1.2zM514.46 244.55h1.2v1.2h-1.2zM514.46 256.79h1.2v1.2h-1.2zM514.46 281.26h1.2v1.2h-1.2zM514.46 293.50h1.2v1.2h-1.2zM514.46 305.74h1.2v1.2h-1.2zM514.46 317.98h1.2v1.2h-1.2zM514.46 330.21h1.2v1.2h-1.2zM514.46 342.45h1.2v1.2h-1.2zM514.46 354.69h1.2v1.2h-1.2zM514.46 366.93h1.2v1.2h-1.2zM514.46 379.17h1.2v1.2h-1.2zM514.46 391.40h1.2v1.2h-1.2zM514.46 403.64h1.2v1.2h-1.2zM514.46 415.88h1.2v1.2h-1.2zM514.46 428.12h1.2v1.2h-1.2zM514.46 440.36h1.2v1.2h-1.2zM514.46 452.59h1.2v1.2h-1.2zM514.46 464.83h1.2v1.2h-1.2zM514.46 477.07h1.2v1.2h-1.2zM514.46 489.31h1.2v1.2h-1.2zM514.46 501.55h1.2v1.2h-1.2zM526.69 -0.21h1.2v1.2h-1.2zM526.69 12.03h1.2v1.2h-1.2zM526.69 24.26h1.2v1.2h-1.2zM526.69 36.50h1.2v1.2h-1.2zM526.69 48.74h1.2v1.2h-1.2zM526.69 60.98h1.2v1.2h-1.2zM526.69 73.22h1.2v1.2h-1.2zM526.69 85.45h1.2v1.2h-1.2zM526.69 97.69h1.2v1.2h-1.2zM526.69 109.93h1.2v1.2h-1.2zM526.69 122.17h1.2v1.2h-1.2zM526.69 134.41h1.2v1.2h-1.2zM526.69 146.64h1.2v1.2h-1.2zM526.69 158.88h1.2v1.2h-1.2zM526.69 171.12h1.2v1.2h-1.2zM526.69 183.36h1.2v1.2h-1.2zM526.69 195.60h1.2v1.2h-1.2zM526.69 207.83h1.2v1.2h-1.2zM526.69 220.07h1.2v1.2h-1.2zM526.69 232.31h1.2v1.2h-1.2zM526.69 244.55h1.2v1.2h-1.2zM526.69 256.79h1.2v1.2h-1.2zM526.69 281.26h1.2v1.2h-1.2zM526.69 293.50h1.2v1.2h-1.2zM526.69 305.74h1.2v1.2h-1.2zM526.69 317.98h1.2v1.2h-1.2zM526.69 330.21h1.2v1.2h-1.2zM526.69 342.45h1.2v1.2h-1.2zM526.69 354.69h1.2v1.2h-1.2zM526.69 366.93h1.2v1.2h-1.2zM526.69 379.17h1.2v1.2h-1.2zM526.69 391.40h1.2v1.2h-1.2zM526.69 403.64h1.2v1.2h-1.2zM526.69 415.88h1.2v1.2h-1.2zM526.69 428.12h1.2v1.2h-1.2zM526.69 440.36h1.2v1.2h-1.2zM526.69 452.59h1.2v1.2h-1.2zM526.69 464.83h1.2v1.2h-1.2zM526.69 477.07h1.2v1.2h-1.2zM526.69 489.31h1.2v1.2h-1.2zM526.69 501.55h1.2v1.2h-1.2zM538.93 -0.21h1.2v1.2h-1.2zM538.93 12.03h1.2v1.2h-1.2zM538.93 24.26h1.2v1.2h-1.2zM538.93 36.50h1.2v1.2h-1.2zM538.93 48.74h1.2v1.2h-1.2zM538.93 60.98h1.2v1.2h-1.2zM538.93 73.22h1.2v1.2h-1.2zM538.93 85.45h1.2v1.2h-1.2zM538.93 97.69h1.2v1.2h-1.2zM538.93 109.93h1.2v1.2h-1.2zM538.93 122.17h1.2v1.2h-1.2zM538.93 134.41h1.2v1.2h-1.2zM538.93 146.64h1.2v1.2h-1.2zM538.93 158.88h1.2v1.2h-1.2zM538.93 171.12h1.2v1.2h-1.2zM538.93 183.36h1.2v1.2h-1.2zM538.93 195.60h1.2v1.2h-1.2zM538.93 207.83h1.2v1.2h-1.2zM538.93 220.07h1.2v1.2h-1.2zM538.93 232.31h1.2v1.2h-1.2zM538.93 244.55h1.2v1.2h-1.2zM538.93 256.79h1.2v1.2h-1.2zM538.93 281.26h1.2v1.2h-1.2zM538.93 293.50h1.2v1.2h-1.2zM538.93 305.74h1.2v1.2h-1.2zM538.93 317.98h1.2v1.2h-1.2zM538.93 330.21h1.2v1.2h-1.2zM538.93 342.45h1.2v1.2h-1.2zM538.93 354.69h1.2v1.2h-1.2zM538.93 366.93h1.2v1.2h-1.2zM538.93 379.17h1.2v1.2h-1.2zM538.93 391.40h1.2v1.2h-1.2zM538.93 403.64h1.2v1.2h-1.2zM538.93 415.88h1.2v1.2h-1.2zM538.93 428.12h1.2v1.2h-1.2zM538.93 440.36h1.2v1.2h-1.2zM538.93 452.59h1.2v1.2h-1.2zM538.93 464.83h1.2v1.2h-1.2zM538.93 477.07h1.2v1.2h-1.2zM538.93 489.31h1.2v1.2h-1.2zM538.93 501.55h1.2v1.2h-1.2zM551.16 -0.21h1.2v1.2h-1.2zM551.16 12.03h1.2v1.2h-1.2zM551.16 24.26h1.2v1.2h-1.2zM551.16 36.50h1.2v1.2h-1.2zM551.16 48.74h1.2v1.2h-1.2zM551.16 60.98h1.2v1.2h-1.2zM551.16 73.22h1.2v1.2h-1.2zM551.16 85.45h1.2v1.2h-1.2zM551.16 97.69h1.2v1.2h-1.2zM551.16 109.93h1.2v1.2h-1.2zM551.16 122.17h1.2v1.2h-1.2zM551.16 134.41h1.2v1.2h-1.2zM551.16 146.64h1.2v1.2h-1.2zM551.16 158.88h1.2v1.2h-1.2zM551.16 171.12h1.2v1.2h-1.2zM551.16 183.36h1.2v1.2h-1.2zM551.16 195.60h1.2v1.2h-1.2zM551.16 207.83h1.2v1.2h-1.2zM551.16 220.07h1.2v1.2h-1.2zM551.16 232.31h1.2v1.2h-1.2zM551.16 244.55h1.2v1.2h-1.2zM551.16 256.79h1.2v1.2h-1.2zM551.16 281.26h1.2v1.2h-1.2zM551.16 293.50h1.2v1.2h-1.2zM551.16 305.74h1.2v1.2h-1.2zM551.16 317.98h1.2v1.2h-1.2zM551.16 330.21h1.2v1.2h-1.2zM551.16 342.45h1.2v1.2h-1.2zM551.16 354.69h1.2v1.2h-1.2zM551.16 366.93h1.2v1.2h-1.2zM551.16 403.64h1.2v1.2h-1.2zM551.16 415.88h1.2v1.2h-1.2zM551.16 428.12h1.2v1.2h-1.2zM551.16 440.36h1.2v1.2h-1.2zM551.16 452.59h1.2v1.2h-1.2zM551.16 464.83h1.2v1.2h-1.2zM551.16 477.07h1.2v1.2h-1.2zM551.16 489.31h1.2v1.2h-1.2zM551.16 501.55h1.2v1.2h-1.2zM563.40 -0.21h1.2v1.2h-1.2zM563.40 12.03h1.2v1.2h-1.2zM563.40 24.26h1.2v1.2h-1.2zM563.40 36.50h1.2v1.2h-1.2zM563.40 48.74h1.2v1.2h-1.2zM563.40 60.98h1.2v1.2h-1.2zM563.40 73.22h1.2v1.2h-1.2zM563.40 85.45h1.2v1.2h-1.2zM563.40 97.69h1.2v1.2h-1.2zM563.40 109.93h1.2v1.2h-1.2zM563.40 122.17h1.2v1.2h-1.2zM563.40 134.41h1.2v1.2h-1.2zM563.40 146.64h1.2v1.2h-1.2zM563.40 158.88h1.2v1.2h-1.2zM563.40 171.12h1.2v1.2h-1.2zM563.40 183.36h1.2v1.2h-1.2zM563.40 195.60h1.2v1.2h-1.2zM563.40 207.83h1.2v1.2h-1.2zM563.40 220.07h1.2v1.2h-1.2zM563.40 232.31h1.2v1.2h-1.2zM563.40 244.55h1.2v1.2h-1.2zM563.40 256.79h1.2v1.2h-1.2zM563.40 281.26h1.2v1.2h-1.2zM563.40 293.50h1.2v1.2h-1.2zM563.40 305.74h1.2v1.2h-1.2zM563.40 317.98h1.2v1.2h-1.2zM563.40 330.21h1.2v1.2h-1.2zM563.40 342.45h1.2v1.2h-1.2zM563.40 354.69h1.2v1.2h-1.2zM563.40 366.93h1.2v1.2h-1.2zM563.40 379.17h1.2v1.2h-1.2zM563.40 391.40h1.2v1.2h-1.2zM563.40 403.64h1.2v1.2h-1.2zM563.40 415.88h1.2v1.2h-1.2zM563.40 428.12h1.2v1.2h-1.2zM563.40 440.36h1.2v1.2h-1.2zM563.40 452.59h1.2v1.2h-1.2zM563.40 464.83h1.2v1.2h-1.2zM563.40 477.07h1.2v1.2h-1.2zM563.40 489.31h1.2v1.2h-1.2zM563.40 501.55h1.2v1.2h-1.2zM575.64 -0.21h1.2v1.2h-1.2zM575.64 12.03h1.2v1.2h-1.2zM575.64 24.26h1.2v1.2h-1.2zM575.64 36.50h1.2v1.2h-1.2zM575.64 48.74h1.2v1.2h-1.2zM575.64 60.98h1.2v1.2h-1.2zM575.64 73.22h1.2v1.2h-1.2zM575.64 85.45h1.2v1.2h-1.2zM575.64 97.69h1.2v1.2h-1.2zM575.64 109.93h1.2v1.2h-1.2zM575.64 122.17h1.2v1.2h-1.2zM575.64 134.41h1.2v1.2h-1.2zM575.64 146.64h1.2v1.2h-1.2zM575.64 158.88h1.2v1.2h-1.2zM575.64 171.12h1.2v1.2h-1.2zM575.64 183.36h1.2v1.2h-1.2zM575.64 195.60h1.2v1.2h-1.2zM575.64 207.83h1.2v1.2h-1.2zM575.64 220.07h1.2v1.2h-1.2zM575.64 232.31h1.2v1.2h-1.2zM575.64 244.55h1.2v1.2h-1.2zM575.64 256.79h1.2v1.2h-1.2zM575.64 281.26h1.2v1.2h-1.2zM575.64 293.50h1.2v1.2h-1.2zM575.64 305.74h1.2v1.2h-1.2zM575.64 317.98h1.2v1.2h-1.2zM575.64 330.21h1.2v1.2h-1.2zM575.64 342.45h1.2v1.2h-1.2zM575.64 354.69h1.2v1.2h-1.2zM575.64 366.93h1.2v1.2h-1.2zM575.64 379.17h1.2v1.2h-1.2zM575.64 391.40h1.2v1.2h-1.2zM575.64 403.64h1.2v1.2h-1.2zM575.64 415.88h1.2v1.2h-1.2zM575.64 428.12h1.2v1.2h-1.2zM575.64 440.36h1.2v1.2h-1.2zM575.64 452.59h1.2v1.2h-1.2zM575.64 464.83h1.2v1.2h-1.2zM575.64 477.07h1.2v1.2h-1.2zM575.64 489.31h1.2v1.2h-1.2zM575.64 501.55h1.2v1.2h-1.2zM587.87 -0.21h1.2v1.2h-1.2zM587.87 12.03h1.2v1.2h-1.2zM587.87 24.26h1.2v1.2h-1.2zM587.87 36.50h1.2v1.2h-1.2zM587.87 48.74h1.2v1.2h-1.2zM587.87 60.98h1.2v1.2h-1.2zM587.87 73.22h1.2v1.2h-1.2zM587.87 85.45h1.2v1.2h-1.2zM587.87 97.69h1.2v1.2h-1.2zM587.87 109.93h1.2v1.2h-1.2zM587.87 122.17h1.2v1.2h-1.2zM587.87 134.41h1.2v1.2h-1.2zM587.87 146.64h1.2v1.2h-1.2zM587.87 158.88h1.2v1.2h-1.2zM587.87 171.12h1.2v1.2h-1.2zM587.87 183.36h1.2v1.2h-1.2zM587.87 195.60h1.2v1.2h-1.2zM587.87 207.83h1.2v1.2h-1.2zM587.87 220.07h1.2v1.2h-1.2zM587.87 232.31h1.2v1.2h-1.2zM587.87 244.55h1.2v1.2h-1.2zM587.87 256.79h1.2v1.2h-1.2zM587.87 269.02h1.2v1.2h-1.2zM587.87 281.26h1.2v1.2h-1.2zM587.87 293.50h1.2v1.2h-1.2zM587.87 305.74h1.2v1.2h-1.2zM587.87 317.98h1.2v1.2h-1.2zM587.87 330.21h1.2v1.2h-1.2zM587.87 342.45h1.2v1.2h-1.2zM587.87 354.69h1.2v1.2h-1.2zM587.87 366.93h1.2v1.2h-1.2zM587.87 379.17h1.2v1.2h-1.2zM587.87 391.40h1.2v1.2h-1.2zM587.87 403.64h1.2v1.2h-1.2zM587.87 415.88h1.2v1.2h-1.2zM587.87 428.12h1.2v1.2h-1.2zM587.87 440.36h1.2v1.2h-1.2zM587.87 452.59h1.2v1.2h-1.2zM587.87 464.83h1.2v1.2h-1.2zM587.87 477.07h1.2v1.2h-1.2zM587.87 489.31h1.2v1.2h-1.2zM587.87 501.55h1.2v1.2h-1.2zM600.11 -0.21h1.2v1.2h-1.2zM600.11 12.03h1.2v1.2h-1.2zM600.11 24.26h1.2v1.2h-1.2zM600.11 36.50h1.2v1.2h-1.2zM600.11 48.74h1.2v1.2h-1.2zM600.11 60.98h1.2v1.2h-1.2zM600.11 73.22h1.2v1.2h-1.2zM600.11 85.45h1.2v1.2h-1.2zM600.11 97.69h1.2v1.2h-1.2zM600.11 109.93h1.2v1.2h-1.2zM600.11 122.17h1.2v1.2h-1.2zM600.11 134.41h1.2v1.2h-1.2zM600.11 146.64h1.2v1.2h-1.2zM600.11 158.88h1.2v1.2h-1.2zM600.11 256.79h1.2v1.2h-1.2zM600.11 269.02h1.2v1.2h-1.2zM600.11 281.26h1.2v1.2h-1.2zM600.11 342.45h1.2v1.2h-1.2zM600.11 354.69h1.2v1.2h-1.2zM600.11 366.93h1.2v1.2h-1.2zM600.11 379.17h1.2v1.2h-1.2zM600.11 391.40h1.2v1.2h-1.2zM600.11 403.64h1.2v1.2h-1.2zM600.11 415.88h1.2v1.2h-1.2zM600.11 428.12h1.2v1.2h-1.2zM600.11 440.36h1.2v1.2h-1.2zM600.11 452.59h1.2v1.2h-1.2zM600.11 501.55h1.2v1.2h-1.2zM612.35 -0.21h1.2v1.2h-1.2zM612.35 12.03h1.2v1.2h-1.2zM612.35 24.26h1.2v1.2h-1.2zM612.35 36.50h1.2v1.2h-1.2zM612.35 48.74h1.2v1.2h-1.2zM612.35 60.98h1.2v1.2h-1.2zM612.35 73.22h1.2v1.2h-1.2zM612.35 85.45h1.2v1.2h-1.2zM612.35 97.69h1.2v1.2h-1.2zM612.35 109.93h1.2v1.2h-1.2zM612.35 122.17h1.2v1.2h-1.2zM612.35 134.41h1.2v1.2h-1.2zM612.35 146.64h1.2v1.2h-1.2zM612.35 158.88h1.2v1.2h-1.2zM612.35 183.36h1.2v1.2h-1.2zM612.35 195.60h1.2v1.2h-1.2zM612.35 207.83h1.2v1.2h-1.2zM612.35 220.07h1.2v1.2h-1.2zM612.35 232.31h1.2v1.2h-1.2zM612.35 244.55h1.2v1.2h-1.2zM612.35 256.79h1.2v1.2h-1.2zM612.35 269.02h1.2v1.2h-1.2zM612.35 281.26h1.2v1.2h-1.2zM612.35 293.50h1.2v1.2h-1.2zM612.35 305.74h1.2v1.2h-1.2zM612.35 317.98h1.2v1.2h-1.2zM612.35 330.21h1.2v1.2h-1.2zM612.35 342.45h1.2v1.2h-1.2zM612.35 354.69h1.2v1.2h-1.2zM612.35 366.93h1.2v1.2h-1.2zM612.35 379.17h1.2v1.2h-1.2zM612.35 391.40h1.2v1.2h-1.2zM612.35 403.64h1.2v1.2h-1.2zM612.35 415.88h1.2v1.2h-1.2zM612.35 428.12h1.2v1.2h-1.2zM612.35 440.36h1.2v1.2h-1.2zM612.35 452.59h1.2v1.2h-1.2zM612.35 464.83h1.2v1.2h-1.2zM612.35 477.07h1.2v1.2h-1.2zM612.35 489.31h1.2v1.2h-1.2zM612.35 501.55h1.2v1.2h-1.2zM624.58 -0.21h1.2v1.2h-1.2zM624.58 12.03h1.2v1.2h-1.2zM624.58 24.26h1.2v1.2h-1.2zM624.58 36.50h1.2v1.2h-1.2zM624.58 48.74h1.2v1.2h-1.2zM624.58 60.98h1.2v1.2h-1.2zM624.58 73.22h1.2v1.2h-1.2zM624.58 85.45h1.2v1.2h-1.2zM624.58 97.69h1.2v1.2h-1.2zM624.58 109.93h1.2v1.2h-1.2zM624.58 122.17h1.2v1.2h-1.2zM624.58 134.41h1.2v1.2h-1.2zM624.58 146.64h1.2v1.2h-1.2zM624.58 158.88h1.2v1.2h-1.2zM624.58 183.36h1.2v1.2h-1.2zM624.58 195.60h1.2v1.2h-1.2zM624.58 207.83h1.2v1.2h-1.2zM624.58 220.07h1.2v1.2h-1.2zM624.58 232.31h1.2v1.2h-1.2zM624.58 244.55h1.2v1.2h-1.2zM624.58 256.79h1.2v1.2h-1.2zM624.58 269.02h1.2v1.2h-1.2zM624.58 281.26h1.2v1.2h-1.2zM624.58 293.50h1.2v1.2h-1.2zM624.58 305.74h1.2v1.2h-1.2zM624.58 317.98h1.2v1.2h-1.2zM624.58 330.21h1.2v1.2h-1.2zM624.58 342.45h1.2v1.2h-1.2zM624.58 354.69h1.2v1.2h-1.2zM624.58 366.93h1.2v1.2h-1.2zM624.58 379.17h1.2v1.2h-1.2zM624.58 391.40h1.2v1.2h-1.2zM624.58 403.64h1.2v1.2h-1.2zM624.58 415.88h1.2v1.2h-1.2zM624.58 428.12h1.2v1.2h-1.2zM624.58 440.36h1.2v1.2h-1.2zM624.58 452.59h1.2v1.2h-1.2zM624.58 464.83h1.2v1.2h-1.2zM624.58 477.07h1.2v1.2h-1.2zM624.58 489.31h1.2v1.2h-1.2zM624.58 501.55h1.2v1.2h-1.2zM636.82 -0.21h1.2v1.2h-1.2zM636.82 12.03h1.2v1.2h-1.2zM636.82 24.26h1.2v1.2h-1.2zM636.82 36.50h1.2v1.2h-1.2zM636.82 48.74h1.2v1.2h-1.2zM636.82 60.98h1.2v1.2h-1.2zM636.82 73.22h1.2v1.2h-1.2zM636.82 85.45h1.2v1.2h-1.2zM636.82 97.69h1.2v1.2h-1.2zM636.82 109.93h1.2v1.2h-1.2zM636.82 122.17h1.2v1.2h-1.2zM636.82 134.41h1.2v1.2h-1.2zM636.82 146.64h1.2v1.2h-1.2zM636.82 158.88h1.2v1.2h-1.2zM636.82 183.36h1.2v1.2h-1.2zM636.82 195.60h1.2v1.2h-1.2zM636.82 207.83h1.2v1.2h-1.2zM636.82 220.07h1.2v1.2h-1.2zM636.82 232.31h1.2v1.2h-1.2zM636.82 244.55h1.2v1.2h-1.2zM636.82 256.79h1.2v1.2h-1.2zM636.82 269.02h1.2v1.2h-1.2zM636.82 281.26h1.2v1.2h-1.2zM636.82 293.50h1.2v1.2h-1.2zM636.82 305.74h1.2v1.2h-1.2zM636.82 317.98h1.2v1.2h-1.2zM636.82 330.21h1.2v1.2h-1.2zM636.82 342.45h1.2v1.2h-1.2zM636.82 354.69h1.2v1.2h-1.2zM636.82 366.93h1.2v1.2h-1.2zM636.82 379.17h1.2v1.2h-1.2zM636.82 391.40h1.2v1.2h-1.2zM636.82 403.64h1.2v1.2h-1.2zM636.82 415.88h1.2v1.2h-1.2zM636.82 428.12h1.2v1.2h-1.2zM636.82 440.36h1.2v1.2h-1.2zM636.82 452.59h1.2v1.2h-1.2zM636.82 464.83h1.2v1.2h-1.2zM636.82 477.07h1.2v1.2h-1.2zM636.82 489.31h1.2v1.2h-1.2zM636.82 501.55h1.2v1.2h-1.2zM649.05 -0.21h1.2v1.2h-1.2zM649.05 12.03h1.2v1.2h-1.2zM649.05 24.26h1.2v1.2h-1.2zM649.05 36.50h1.2v1.2h-1.2zM649.05 48.74h1.2v1.2h-1.2zM649.05 60.98h1.2v1.2h-1.2zM649.05 73.22h1.2v1.2h-1.2zM649.05 85.45h1.2v1.2h-1.2zM649.05 97.69h1.2v1.2h-1.2zM649.05 109.93h1.2v1.2h-1.2zM649.05 122.17h1.2v1.2h-1.2zM649.05 134.41h1.2v1.2h-1.2zM649.05 146.64h1.2v1.2h-1.2zM649.05 158.88h1.2v1.2h-1.2zM649.05 183.36h1.2v1.2h-1.2zM649.05 195.60h1.2v1.2h-1.2zM649.05 207.83h1.2v1.2h-1.2zM649.05 220.07h1.2v1.2h-1.2zM649.05 232.31h1.2v1.2h-1.2zM649.05 244.55h1.2v1.2h-1.2zM649.05 256.79h1.2v1.2h-1.2zM649.05 269.02h1.2v1.2h-1.2zM649.05 281.26h1.2v1.2h-1.2zM649.05 293.50h1.2v1.2h-1.2zM649.05 305.74h1.2v1.2h-1.2zM649.05 317.98h1.2v1.2h-1.2zM649.05 330.21h1.2v1.2h-1.2zM649.05 342.45h1.2v1.2h-1.2zM649.05 354.69h1.2v1.2h-1.2zM649.05 366.93h1.2v1.2h-1.2zM649.05 379.17h1.2v1.2h-1.2zM649.05 391.40h1.2v1.2h-1.2zM649.05 403.64h1.2v1.2h-1.2zM649.05 415.88h1.2v1.2h-1.2zM649.05 428.12h1.2v1.2h-1.2zM649.05 440.36h1.2v1.2h-1.2zM649.05 452.59h1.2v1.2h-1.2zM649.05 464.83h1.2v1.2h-1.2zM649.05 477.07h1.2v1.2h-1.2zM649.05 489.31h1.2v1.2h-1.2zM649.05 501.55h1.2v1.2h-1.2zM661.29 -0.21h1.2v1.2h-1.2zM661.29 12.03h1.2v1.2h-1.2zM661.29 24.26h1.2v1.2h-1.2zM661.29 36.50h1.2v1.2h-1.2zM661.29 48.74h1.2v1.2h-1.2zM661.29 60.98h1.2v1.2h-1.2zM661.29 73.22h1.2v1.2h-1.2zM661.29 85.45h1.2v1.2h-1.2zM661.29 97.69h1.2v1.2h-1.2zM661.29 109.93h1.2v1.2h-1.2zM661.29 122.17h1.2v1.2h-1.2zM661.29 134.41h1.2v1.2h-1.2zM661.29 146.64h1.2v1.2h-1.2zM661.29 158.88h1.2v1.2h-1.2zM661.29 171.12h1.2v1.2h-1.2zM661.29 183.36h1.2v1.2h-1.2zM661.29 195.60h1.2v1.2h-1.2zM661.29 207.83h1.2v1.2h-1.2zM661.29 220.07h1.2v1.2h-1.2zM661.29 232.31h1.2v1.2h-1.2zM661.29 244.55h1.2v1.2h-1.2zM661.29 256.79h1.2v1.2h-1.2zM661.29 269.02h1.2v1.2h-1.2zM661.29 281.26h1.2v1.2h-1.2zM661.29 293.50h1.2v1.2h-1.2zM661.29 305.74h1.2v1.2h-1.2zM661.29 317.98h1.2v1.2h-1.2zM661.29 330.21h1.2v1.2h-1.2zM661.29 342.45h1.2v1.2h-1.2zM661.29 354.69h1.2v1.2h-1.2zM661.29 366.93h1.2v1.2h-1.2zM661.29 379.17h1.2v1.2h-1.2zM661.29 391.40h1.2v1.2h-1.2zM661.29 403.64h1.2v1.2h-1.2zM661.29 415.88h1.2v1.2h-1.2zM661.29 428.12h1.2v1.2h-1.2zM661.29 440.36h1.2v1.2h-1.2zM661.29 452.59h1.2v1.2h-1.2zM661.29 464.83h1.2v1.2h-1.2zM661.29 477.07h1.2v1.2h-1.2zM661.29 489.31h1.2v1.2h-1.2zM661.29 501.55h1.2v1.2h-1.2zM673.52 -0.21h1.2v1.2h-1.2zM673.52 12.03h1.2v1.2h-1.2zM673.52 24.26h1.2v1.2h-1.2zM673.52 36.50h1.2v1.2h-1.2zM673.52 48.74h1.2v1.2h-1.2zM673.52 60.98h1.2v1.2h-1.2zM673.52 73.22h1.2v1.2h-1.2zM673.52 85.45h1.2v1.2h-1.2zM673.52 97.69h1.2v1.2h-1.2zM673.52 109.93h1.2v1.2h-1.2zM673.52 122.17h1.2v1.2h-1.2zM673.52 134.41h1.2v1.2h-1.2zM673.52 146.64h1.2v1.2h-1.2zM673.52 158.88h1.2v1.2h-1.2zM673.52 171.12h1.2v1.2h-1.2zM673.52 183.36h1.2v1.2h-1.2zM673.52 195.60h1.2v1.2h-1.2zM673.52 207.83h1.2v1.2h-1.2zM673.52 220.07h1.2v1.2h-1.2zM673.52 232.31h1.2v1.2h-1.2zM673.52 244.55h1.2v1.2h-1.2zM673.52 256.79h1.2v1.2h-1.2zM673.52 269.02h1.2v1.2h-1.2zM673.52 281.26h1.2v1.2h-1.2zM673.52 293.50h1.2v1.2h-1.2zM673.52 305.74h1.2v1.2h-1.2zM673.52 317.98h1.2v1.2h-1.2zM673.52 330.21h1.2v1.2h-1.2zM673.52 342.45h1.2v1.2h-1.2zM673.52 354.69h1.2v1.2h-1.2zM673.52 366.93h1.2v1.2h-1.2zM673.52 379.17h1.2v1.2h-1.2zM673.52 391.40h1.2v1.2h-1.2zM673.52 403.64h1.2v1.2h-1.2zM673.52 415.88h1.2v1.2h-1.2zM673.52 428.12h1.2v1.2h-1.2zM673.52 440.36h1.2v1.2h-1.2zM673.52 452.59h1.2v1.2h-1.2zM673.52 464.83h1.2v1.2h-1.2zM673.52 477.07h1.2v1.2h-1.2zM673.52 489.31h1.2v1.2h-1.2zM673.52 501.55h1.2v1.2h-1.2zM685.76 -0.21h1.2v1.2h-1.2zM685.76 12.03h1.2v1.2h-1.2zM685.76 24.26h1.2v1.2h-1.2zM685.76 36.50h1.2v1.2h-1.2zM685.76 48.74h1.2v1.2h-1.2zM685.76 60.98h1.2v1.2h-1.2zM685.76 73.22h1.2v1.2h-1.2zM685.76 85.45h1.2v1.2h-1.2zM685.76 97.69h1.2v1.2h-1.2zM685.76 109.93h1.2v1.2h-1.2zM685.76 122.17h1.2v1.2h-1.2zM685.76 134.41h1.2v1.2h-1.2zM685.76 146.64h1.2v1.2h-1.2zM685.76 158.88h1.2v1.2h-1.2zM685.76 183.36h1.2v1.2h-1.2zM685.76 195.60h1.2v1.2h-1.2zM685.76 207.83h1.2v1.2h-1.2zM685.76 220.07h1.2v1.2h-1.2zM685.76 232.31h1.2v1.2h-1.2zM685.76 244.55h1.2v1.2h-1.2zM685.76 256.79h1.2v1.2h-1.2zM685.76 269.02h1.2v1.2h-1.2zM685.76 281.26h1.2v1.2h-1.2zM685.76 293.50h1.2v1.2h-1.2zM685.76 305.74h1.2v1.2h-1.2zM685.76 317.98h1.2v1.2h-1.2zM685.76 330.21h1.2v1.2h-1.2zM685.76 342.45h1.2v1.2h-1.2zM685.76 354.69h1.2v1.2h-1.2zM685.76 366.93h1.2v1.2h-1.2zM685.76 379.17h1.2v1.2h-1.2zM685.76 391.40h1.2v1.2h-1.2zM685.76 403.64h1.2v1.2h-1.2zM685.76 415.88h1.2v1.2h-1.2zM685.76 428.12h1.2v1.2h-1.2zM685.76 440.36h1.2v1.2h-1.2zM685.76 452.59h1.2v1.2h-1.2zM685.76 464.83h1.2v1.2h-1.2zM685.76 477.07h1.2v1.2h-1.2zM685.76 489.31h1.2v1.2h-1.2zM685.76 501.55h1.2v1.2h-1.2zM698.00 -0.21h1.2v1.2h-1.2zM698.00 12.03h1.2v1.2h-1.2zM698.00 24.26h1.2v1.2h-1.2zM698.00 36.50h1.2v1.2h-1.2zM698.00 48.74h1.2v1.2h-1.2zM698.00 60.98h1.2v1.2h-1.2zM698.00 73.22h1.2v1.2h-1.2zM698.00 85.45h1.2v1.2h-1.2zM698.00 97.69h1.2v1.2h-1.2zM698.00 109.93h1.2v1.2h-1.2zM698.00 122.17h1.2v1.2h-1.2zM698.00 134.41h1.2v1.2h-1.2zM698.00 146.64h1.2v1.2h-1.2zM698.00 158.88h1.2v1.2h-1.2zM698.00 183.36h1.2v1.2h-1.2zM698.00 195.60h1.2v1.2h-1.2zM698.00 207.83h1.2v1.2h-1.2zM698.00 220.07h1.2v1.2h-1.2zM698.00 232.31h1.2v1.2h-1.2zM698.00 244.55h1.2v1.2h-1.2zM698.00 256.79h1.2v1.2h-1.2zM698.00 269.02h1.2v1.2h-1.2zM698.00 281.26h1.2v1.2h-1.2zM698.00 293.50h1.2v1.2h-1.2zM698.00 305.74h1.2v1.2h-1.2zM698.00 317.98h1.2v1.2h-1.2zM698.00 330.21h1.2v1.2h-1.2zM698.00 342.45h1.2v1.2h-1.2zM698.00 354.69h1.2v1.2h-1.2zM698.00 366.93h1.2v1.2h-1.2zM698.00 379.17h1.2v1.2h-1.2zM698.00 391.40h1.2v1.2h-1.2zM698.00 403.64h1.2v1.2h-1.2zM698.00 415.88h1.2v1.2h-1.2zM698.00 428.12h1.2v1.2h-1.2zM698.00 440.36h1.2v1.2h-1.2zM698.00 452.59h1.2v1.2h-1.2zM698.00 464.83h1.2v1.2h-1.2zM698.00 477.07h1.2v1.2h-1.2zM698.00 489.31h1.2v1.2h-1.2zM698.00 501.55h1.2v1.2h-1.2zM710.23 -0.21h1.2v1.2h-1.2zM710.23 12.03h1.2v1.2h-1.2zM710.23 24.26h1.2v1.2h-1.2zM710.23 36.50h1.2v1.2h-1.2zM710.23 48.74h1.2v1.2h-1.2zM710.23 60.98h1.2v1.2h-1.2zM710.23 73.22h1.2v1.2h-1.2zM710.23 85.45h1.2v1.2h-1.2zM710.23 97.69h1.2v1.2h-1.2zM710.23 109.93h1.2v1.2h-1.2zM710.23 122.17h1.2v1.2h-1.2zM710.23 134.41h1.2v1.2h-1.2zM710.23 146.64h1.2v1.2h-1.2zM710.23 158.88h1.2v1.2h-1.2zM710.23 183.36h1.2v1.2h-1.2zM710.23 195.60h1.2v1.2h-1.2zM710.23 207.83h1.2v1.2h-1.2zM710.23 220.07h1.2v1.2h-1.2zM710.23 232.31h1.2v1.2h-1.2zM710.23 244.55h1.2v1.2h-1.2zM710.23 256.79h1.2v1.2h-1.2zM710.23 269.02h1.2v1.2h-1.2zM710.23 281.26h1.2v1.2h-1.2zM710.23 293.50h1.2v1.2h-1.2zM710.23 305.74h1.2v1.2h-1.2zM710.23 317.98h1.2v1.2h-1.2zM710.23 330.21h1.2v1.2h-1.2zM710.23 342.45h1.2v1.2h-1.2zM710.23 354.69h1.2v1.2h-1.2zM710.23 366.93h1.2v1.2h-1.2zM710.23 379.17h1.2v1.2h-1.2zM710.23 391.40h1.2v1.2h-1.2zM710.23 403.64h1.2v1.2h-1.2zM710.23 415.88h1.2v1.2h-1.2zM710.23 428.12h1.2v1.2h-1.2zM710.23 440.36h1.2v1.2h-1.2zM710.23 452.59h1.2v1.2h-1.2zM710.23 464.83h1.2v1.2h-1.2zM710.23 477.07h1.2v1.2h-1.2zM710.23 489.31h1.2v1.2h-1.2zM710.23 501.55h1.2v1.2h-1.2zM722.47 -0.21h1.2v1.2h-1.2zM722.47 12.03h1.2v1.2h-1.2zM722.47 24.26h1.2v1.2h-1.2zM722.47 36.50h1.2v1.2h-1.2zM722.47 48.74h1.2v1.2h-1.2zM722.47 60.98h1.2v1.2h-1.2zM722.47 73.22h1.2v1.2h-1.2zM722.47 85.45h1.2v1.2h-1.2zM722.47 97.69h1.2v1.2h-1.2zM722.47 109.93h1.2v1.2h-1.2zM722.47 122.17h1.2v1.2h-1.2zM722.47 134.41h1.2v1.2h-1.2zM722.47 146.64h1.2v1.2h-1.2zM722.47 158.88h1.2v1.2h-1.2zM722.47 195.60h1.2v1.2h-1.2zM722.47 207.83h1.2v1.2h-1.2zM722.47 220.07h1.2v1.2h-1.2zM722.47 232.31h1.2v1.2h-1.2zM722.47 244.55h1.2v1.2h-1.2zM722.47 256.79h1.2v1.2h-1.2zM722.47 269.02h1.2v1.2h-1.2zM722.47 281.26h1.2v1.2h-1.2zM722.47 293.50h1.2v1.2h-1.2zM722.47 305.74h1.2v1.2h-1.2zM722.47 317.98h1.2v1.2h-1.2zM722.47 330.21h1.2v1.2h-1.2zM722.47 342.45h1.2v1.2h-1.2zM722.47 354.69h1.2v1.2h-1.2zM722.47 366.93h1.2v1.2h-1.2zM722.47 379.17h1.2v1.2h-1.2zM722.47 391.40h1.2v1.2h-1.2zM722.47 403.64h1.2v1.2h-1.2zM722.47 415.88h1.2v1.2h-1.2zM722.47 428.12h1.2v1.2h-1.2zM722.47 440.36h1.2v1.2h-1.2zM722.47 452.59h1.2v1.2h-1.2zM722.47 464.83h1.2v1.2h-1.2zM722.47 477.07h1.2v1.2h-1.2zM722.47 489.31h1.2v1.2h-1.2zM722.47 501.55h1.2v1.2h-1.2zM734.71 -0.21h1.2v1.2h-1.2zM734.71 12.03h1.2v1.2h-1.2zM734.71 24.26h1.2v1.2h-1.2zM734.71 36.50h1.2v1.2h-1.2zM734.71 48.74h1.2v1.2h-1.2zM734.71 60.98h1.2v1.2h-1.2zM734.71 73.22h1.2v1.2h-1.2zM734.71 85.45h1.2v1.2h-1.2zM734.71 97.69h1.2v1.2h-1.2zM734.71 109.93h1.2v1.2h-1.2zM734.71 122.17h1.2v1.2h-1.2zM734.71 134.41h1.2v1.2h-1.2zM734.71 146.64h1.2v1.2h-1.2zM734.71 158.88h1.2v1.2h-1.2zM734.71 171.12h1.2v1.2h-1.2zM734.71 183.36h1.2v1.2h-1.2zM734.71 195.60h1.2v1.2h-1.2zM734.71 207.83h1.2v1.2h-1.2zM734.71 220.07h1.2v1.2h-1.2zM734.71 232.31h1.2v1.2h-1.2zM734.71 244.55h1.2v1.2h-1.2zM734.71 256.79h1.2v1.2h-1.2zM734.71 269.02h1.2v1.2h-1.2zM734.71 281.26h1.2v1.2h-1.2zM734.71 293.50h1.2v1.2h-1.2zM734.71 305.74h1.2v1.2h-1.2zM734.71 317.98h1.2v1.2h-1.2zM734.71 330.21h1.2v1.2h-1.2zM734.71 342.45h1.2v1.2h-1.2zM734.71 354.69h1.2v1.2h-1.2zM734.71 366.93h1.2v1.2h-1.2zM734.71 379.17h1.2v1.2h-1.2zM734.71 391.40h1.2v1.2h-1.2zM734.71 403.64h1.2v1.2h-1.2zM734.71 415.88h1.2v1.2h-1.2zM734.71 428.12h1.2v1.2h-1.2zM734.71 440.36h1.2v1.2h-1.2zM734.71 452.59h1.2v1.2h-1.2zM734.71 464.83h1.2v1.2h-1.2zM734.71 477.07h1.2v1.2h-1.2zM734.71 489.31h1.2v1.2h-1.2zM734.71 501.55h1.2v1.2h-1.2zM746.94 -0.21h1.2v1.2h-1.2zM746.94 12.03h1.2v1.2h-1.2zM746.94 24.26h1.2v1.2h-1.2zM746.94 36.50h1.2v1.2h-1.2zM746.94 48.74h1.2v1.2h-1.2zM746.94 60.98h1.2v1.2h-1.2zM746.94 73.22h1.2v1.2h-1.2zM746.94 85.45h1.2v1.2h-1.2zM746.94 97.69h1.2v1.2h-1.2zM746.94 109.93h1.2v1.2h-1.2zM746.94 122.17h1.2v1.2h-1.2zM746.94 134.41h1.2v1.2h-1.2zM746.94 146.64h1.2v1.2h-1.2zM746.94 158.88h1.2v1.2h-1.2zM746.94 171.12h1.2v1.2h-1.2zM746.94 183.36h1.2v1.2h-1.2zM746.94 195.60h1.2v1.2h-1.2zM746.94 207.83h1.2v1.2h-1.2zM746.94 220.07h1.2v1.2h-1.2zM746.94 232.31h1.2v1.2h-1.2zM746.94 244.55h1.2v1.2h-1.2zM746.94 256.79h1.2v1.2h-1.2zM746.94 269.02h1.2v1.2h-1.2zM746.94 281.26h1.2v1.2h-1.2zM746.94 293.50h1.2v1.2h-1.2zM746.94 305.74h1.2v1.2h-1.2zM746.94 317.98h1.2v1.2h-1.2zM746.94 330.21h1.2v1.2h-1.2zM746.94 342.45h1.2v1.2h-1.2zM746.94 354.69h1.2v1.2h-1.2zM746.94 366.93h1.2v1.2h-1.2zM746.94 379.17h1.2v1.2h-1.2zM746.94 391.40h1.2v1.2h-1.2zM746.94 403.64h1.2v1.2h-1.2zM746.94 415.88h1.2v1.2h-1.2zM746.94 428.12h1.2v1.2h-1.2zM746.94 440.36h1.2v1.2h-1.2zM746.94 452.59h1.2v1.2h-1.2zM746.94 464.83h1.2v1.2h-1.2zM746.94 477.07h1.2v1.2h-1.2zM746.94 489.31h1.2v1.2h-1.2zM746.94 501.55h1.2v1.2h-1.2zM759.18 -0.21h1.2v1.2h-1.2zM759.18 12.03h1.2v1.2h-1.2zM759.18 24.26h1.2v1.2h-1.2zM759.18 36.50h1.2v1.2h-1.2zM759.18 48.74h1.2v1.2h-1.2zM759.18 60.98h1.2v1.2h-1.2zM759.18 73.22h1.2v1.2h-1.2zM759.18 85.45h1.2v1.2h-1.2zM759.18 97.69h1.2v1.2h-1.2zM759.18 109.93h1.2v1.2h-1.2zM759.18 122.17h1.2v1.2h-1.2zM759.18 134.41h1.2v1.2h-1.2zM759.18 146.64h1.2v1.2h-1.2zM759.18 158.88h1.2v1.2h-1.2zM759.18 171.12h1.2v1.2h-1.2zM759.18 183.36h1.2v1.2h-1.2zM759.18 195.60h1.2v1.2h-1.2zM759.18 207.83h1.2v1.2h-1.2zM759.18 220.07h1.2v1.2h-1.2zM759.18 232.31h1.2v1.2h-1.2zM759.18 244.55h1.2v1.2h-1.2zM759.18 256.79h1.2v1.2h-1.2zM759.18 269.02h1.2v1.2h-1.2zM759.18 281.26h1.2v1.2h-1.2zM759.18 293.50h1.2v1.2h-1.2zM759.18 305.74h1.2v1.2h-1.2zM759.18 317.98h1.2v1.2h-1.2zM759.18 330.21h1.2v1.2h-1.2zM759.18 342.45h1.2v1.2h-1.2zM759.18 354.69h1.2v1.2h-1.2zM759.18 366.93h1.2v1.2h-1.2zM759.18 379.17h1.2v1.2h-1.2zM759.18 391.40h1.2v1.2h-1.2zM759.18 403.64h1.2v1.2h-1.2zM759.18 415.88h1.2v1.2h-1.2zM759.18 428.12h1.2v1.2h-1.2zM759.18 440.36h1.2v1.2h-1.2zM759.18 452.59h1.2v1.2h-1.2zM759.18 464.83h1.2v1.2h-1.2zM759.18 477.07h1.2v1.2h-1.2zM759.18 489.31h1.2v1.2h-1.2zM759.18 501.55h1.2v1.2h-1.2zM771.41 -0.21h1.2v1.2h-1.2zM771.41 12.03h1.2v1.2h-1.2zM771.41 24.26h1.2v1.2h-1.2zM771.41 36.50h1.2v1.2h-1.2zM771.41 48.74h1.2v1.2h-1.2zM771.41 60.98h1.2v1.2h-1.2zM771.41 73.22h1.2v1.2h-1.2zM771.41 85.45h1.2v1.2h-1.2zM771.41 97.69h1.2v1.2h-1.2zM771.41 109.93h1.2v1.2h-1.2zM771.41 122.17h1.2v1.2h-1.2zM771.41 134.41h1.2v1.2h-1.2zM771.41 146.64h1.2v1.2h-1.2zM771.41 158.88h1.2v1.2h-1.2zM771.41 171.12h1.2v1.2h-1.2zM771.41 183.36h1.2v1.2h-1.2zM771.41 195.60h1.2v1.2h-1.2zM771.41 207.83h1.2v1.2h-1.2zM771.41 220.07h1.2v1.2h-1.2zM771.41 232.31h1.2v1.2h-1.2zM771.41 244.55h1.2v1.2h-1.2zM771.41 256.79h1.2v1.2h-1.2zM771.41 269.02h1.2v1.2h-1.2zM771.41 281.26h1.2v1.2h-1.2zM771.41 293.50h1.2v1.2h-1.2zM771.41 305.74h1.2v1.2h-1.2zM771.41 317.98h1.2v1.2h-1.2zM771.41 330.21h1.2v1.2h-1.2zM771.41 342.45h1.2v1.2h-1.2zM771.41 354.69h1.2v1.2h-1.2zM771.41 366.93h1.2v1.2h-1.2zM771.41 379.17h1.2v1.2h-1.2zM771.41 391.40h1.2v1.2h-1.2zM771.41 403.64h1.2v1.2h-1.2zM771.41 415.88h1.2v1.2h-1.2zM771.41 428.12h1.2v1.2h-1.2zM771.41 440.36h1.2v1.2h-1.2zM771.41 452.59h1.2v1.2h-1.2zM771.41 464.83h1.2v1.2h-1.2zM771.41 477.07h1.2v1.2h-1.2zM771.41 489.31h1.2v1.2h-1.2zM771.41 501.55h1.2v1.2h-1.2zM783.65 -0.21h1.2v1.2h-1.2zM783.65 12.03h1.2v1.2h-1.2zM783.65 24.26h1.2v1.2h-1.2zM783.65 36.50h1.2v1.2h-1.2zM783.65 48.74h1.2v1.2h-1.2zM783.65 60.98h1.2v1.2h-1.2zM783.65 73.22h1.2v1.2h-1.2zM783.65 85.45h1.2v1.2h-1.2zM783.65 97.69h1.2v1.2h-1.2zM783.65 109.93h1.2v1.2h-1.2zM783.65 122.17h1.2v1.2h-1.2zM783.65 134.41h1.2v1.2h-1.2zM783.65 146.64h1.2v1.2h-1.2zM783.65 158.88h1.2v1.2h-1.2zM783.65 171.12h1.2v1.2h-1.2zM783.65 183.36h1.2v1.2h-1.2zM783.65 195.60h1.2v1.2h-1.2zM783.65 207.83h1.2v1.2h-1.2zM783.65 220.07h1.2v1.2h-1.2zM783.65 232.31h1.2v1.2h-1.2zM783.65 244.55h1.2v1.2h-1.2zM783.65 256.79h1.2v1.2h-1.2zM783.65 269.02h1.2v1.2h-1.2zM783.65 281.26h1.2v1.2h-1.2zM783.65 293.50h1.2v1.2h-1.2zM783.65 305.74h1.2v1.2h-1.2zM783.65 317.98h1.2v1.2h-1.2zM783.65 330.21h1.2v1.2h-1.2zM783.65 342.45h1.2v1.2h-1.2zM783.65 354.69h1.2v1.2h-1.2zM783.65 366.93h1.2v1.2h-1.2zM783.65 379.17h1.2v1.2h-1.2zM783.65 391.40h1.2v1.2h-1.2zM783.65 403.64h1.2v1.2h-1.2zM783.65 415.88h1.2v1.2h-1.2zM783.65 428.12h1.2v1.2h-1.2zM783.65 440.36h1.2v1.2h-1.2zM783.65 452.59h1.2v1.2h-1.2zM783.65 464.83h1.2v1.2h-1.2zM783.65 477.07h1.2v1.2h-1.2zM783.65 489.31h1.2v1.2h-1.2zM783.65 501.55h1.2v1.2h-1.2zM795.88 -0.21h1.2v1.2h-1.2zM795.88 12.03h1.2v1.2h-1.2zM795.88 24.26h1.2v1.2h-1.2zM795.88 36.50h1.2v1.2h-1.2zM795.88 48.74h1.2v1.2h-1.2zM795.88 60.98h1.2v1.2h-1.2zM795.88 73.22h1.2v1.2h-1.2zM795.88 85.45h1.2v1.2h-1.2zM795.88 97.69h1.2v1.2h-1.2zM795.88 109.93h1.2v1.2h-1.2zM795.88 122.17h1.2v1.2h-1.2zM795.88 134.41h1.2v1.2h-1.2zM795.88 146.64h1.2v1.2h-1.2zM795.88 158.88h1.2v1.2h-1.2zM795.88 171.12h1.2v1.2h-1.2zM795.88 183.36h1.2v1.2h-1.2zM795.88 195.60h1.2v1.2h-1.2zM795.88 207.83h1.2v1.2h-1.2zM795.88 220.07h1.2v1.2h-1.2zM795.88 232.31h1.2v1.2h-1.2zM795.88 244.55h1.2v1.2h-1.2zM795.88 256.79h1.2v1.2h-1.2zM795.88 269.02h1.2v1.2h-1.2zM795.88 281.26h1.2v1.2h-1.2zM795.88 293.50h1.2v1.2h-1.2zM795.88 305.74h1.2v1.2h-1.2zM795.88 317.98h1.2v1.2h-1.2zM795.88 330.21h1.2v1.2h-1.2zM795.88 342.45h1.2v1.2h-1.2zM795.88 354.69h1.2v1.2h-1.2zM795.88 366.93h1.2v1.2h-1.2zM795.88 379.17h1.2v1.2h-1.2zM795.88 391.40h1.2v1.2h-1.2zM795.88 403.64h1.2v1.2h-1.2zM795.88 415.88h1.2v1.2h-1.2zM795.88 428.12h1.2v1.2h-1.2zM795.88 440.36h1.2v1.2h-1.2zM795.88 452.59h1.2v1.2h-1.2zM795.88 464.83h1.2v1.2h-1.2zM795.88 477.07h1.2v1.2h-1.2zM795.88 489.31h1.2v1.2h-1.2zM795.88 501.55h1.2v1.2h-1.2z" fill="#505050"/>
<g font-family="'Liberation Sans', sans-serif" font-weight="bold" font-size="7.8" fill="#2a2a2a" stroke="#2a2a2a" stroke-width="0.3">
<polyline points="295.35,74.14 295.35,43.58 319.33,43.58" fill="none" stroke="#2a2af0" stroke-width="1.25" stroke-linejoin="miter"/>
<polyline points="349.92,43.58 374.60,43.58 374.60,116.89" fill="none" stroke="#2a2af0" stroke-width="1.25" stroke-linejoin="miter"/>
<polyline points="374.60,92.43 331.43,92.43 331.43,116.89" fill="none" stroke="#2a2af0" stroke-width="1.25" stroke-linejoin="miter"/>
<line x1="331.43" y1="141.32" x2="331.43" y2="153.30" stroke="#2a2af0" stroke-width="1.25"/>
<line x1="374.60" y1="147.43" x2="374.60" y2="177.52" stroke="#2a2af0" stroke-width="1.25"/>
<polyline points="343.93,190.18 343.93,177.52 404.50,177.52 404.50,190.18" fill="none" stroke="#2a2af0" stroke-width="1.25" stroke-linejoin="miter"/>
<line x1="343.93" y1="220.72" x2="343.93" y2="294.01" stroke="#2a2af0" stroke-width="1.25"/>
<line x1="404.50" y1="220.72" x2="404.50" y2="294.01" stroke="#2a2af0" stroke-width="1.25"/>
<polyline points="343.93,318.44 343.93,349.43 404.50,349.43 404.50,318.44" fill="none" stroke="#2a2af0" stroke-width="1.25" stroke-linejoin="miter"/>
<line x1="374.60" y1="349.43" x2="374.60" y2="477.85" stroke="#2a2af0" stroke-width="1.25"/>
<polyline points="227.43,294.01 227.43,257.35 343.93,257.35" fill="none" stroke="#2a2af0" stroke-width="1.25" stroke-linejoin="miter"/>
<line x1="404.50" y1="257.35" x2="453.94" y2="257.35" stroke="#2a2af0" stroke-width="1.25"/>
<polyline points="478.41,257.35 503.40,257.35 503.40,354.93" fill="none" stroke="#2a2af0" stroke-width="1.25" stroke-linejoin="miter"/>
<line x1="503.40" y1="379.52" x2="503.40" y2="458.82" stroke="#2a2af0" stroke-width="1.25"/>
<line x1="503.40" y1="269.60" x2="576.31" y2="269.60" stroke="#2a2af0" stroke-width="1.25"/>
<polyline points="203.07,312.46 116.99,312.46 116.99,354.93" fill="none" stroke="#2a2af0" stroke-width="1.25" stroke-linejoin="miter"/>
<line x1="116.99" y1="385.63" x2="116.99" y2="453.40" stroke="#2a2af0" stroke-width="1.25"/>
<line x1="227.43" y1="330.66" x2="227.43" y2="373.41" stroke="#2a2af0" stroke-width="1.25"/>
<polyline points="227.43,354.93 191.15,354.93 191.15,373.41" fill="none" stroke="#2a2af0" stroke-width="1.25" stroke-linejoin="miter"/>
<line x1="191.15" y1="397.84" x2="191.15" y2="458.82" stroke="#2a2af0" stroke-width="1.25"/>
<polyline points="227.43,403.95 227.43,458.82 374.60,458.82" fill="none" stroke="#2a2af0" stroke-width="1.25" stroke-linejoin="miter"/>
<polyline points="600.93,251.26 600.93,172.30 649.73,172.30" fill="none" stroke="#2a2af0" stroke-width="1.25" stroke-linejoin="miter"/>
<polyline points="680.32,172.30 723.23,172.30 723.23,183.70" fill="none" stroke="#2a2af0" stroke-width="1.25" stroke-linejoin="miter"/>
<line x1="600.93" y1="287.91" x2="600.93" y2="336.50" stroke="#2a2af0" stroke-width="1.25"/>
<polyline points="557.43,367.30 557.43,336.50 643.46,336.50 643.46,373.41" fill="none" stroke="#2a2af0" stroke-width="1.25" stroke-linejoin="miter"/>
<polyline points="557.43,397.84 557.43,458.82 643.46,458.82 643.46,397.84" fill="none" stroke="#2a2af0" stroke-width="1.25" stroke-linejoin="miter"/>
<line x1="600.93" y1="458.82" x2="600.93" y2="484.40" stroke="#2a2af0" stroke-width="1.25"/>
<line x1="295.35" y1="74.14" x2="295.35" y2="81.64" stroke="#2c2c90" stroke-width="1.1"/>
<rect x="288.75" y="81.84" width="12.2" height="3.1" fill="none" stroke="#2c2c90" stroke-width="1.1"/>
<line x1="282.35" y1="88.04" x2="307.85" y2="88.04" stroke="#2c2c90" stroke-width="1.3"/>
<rect x="288.75" y="91.24" width="12.2" height="3.3" fill="none" stroke="#2c2c90" stroke-width="1.1"/>
<line x1="282.35" y1="96.74" x2="307.85" y2="96.74" stroke="#2c2c90" stroke-width="1.3"/>
<line x1="295.35" y1="96.74" x2="295.35" y2="103.34" stroke="#2c2c90" stroke-width="1.1"/>
<circle cx="295.35" cy="104.74" r="1.45" fill="none" stroke="#2a2af0" stroke-width="1.2"/>
<line x1="299.25" y1="101.44" x2="303.05" y2="101.44" stroke="#2c2c90" stroke-width="1.1"/>
<line x1="301.15" y1="99.54" x2="301.15" y2="103.34" stroke="#2c2c90" stroke-width="1.1"/>
<text transform="translate(284.85,70.45) scale(1,1.06)" y="2.79" text-anchor="end">V1</text>
<text transform="translate(285.15,104.45) scale(1,1.06)" y="2.79" text-anchor="end">15</text>
<polyline points="319.33,43.58 322.38,43.58 325.44,37.67 331.55,48.79 337.67,37.67 343.78,48.79 346.84,43.58 349.89,43.58" fill="none" stroke="#2c2c90" stroke-width="1.1" stroke-linejoin="miter"/>
<text transform="translate(334.11,33.30) scale(1,1.06)" y="2.79" text-anchor="middle">R4</text>
<text transform="translate(334.11,54.10) scale(1,1.06)" y="2.79" text-anchor="middle">390</text>
<line x1="331.43" y1="116.89" x2="331.43" y2="127.59" stroke="#2c2c90" stroke-width="1.1"/>
<line x1="331.43" y1="130.65" x2="331.43" y2="141.34" stroke="#2c2c90" stroke-width="1.1"/>
<line x1="325.32" y1="127.59" x2="337.54" y2="127.59" stroke="#2c2c90" stroke-width="1.1"/>
<line x1="325.32" y1="130.65" x2="337.54" y2="130.65" stroke="#2c2c90" stroke-width="1.1"/>
<text transform="translate(333.99,119.96) scale(1,1.06)" y="2.79" text-anchor="start">C6</text>
<text transform="translate(333.99,137.90) scale(1,1.06)" y="2.79" text-anchor="start">3n</text>
<path d="M374.60 116.89 C378.00 116.89 380.40 119.09 380.40 122.09 L380.40 142.29 C380.40 145.29 378.00 147.49 374.60 147.49" fill="none" stroke="#2c2c90" stroke-width="1.05"/>
<path d="M380.40 125.99 C376.10 125.09 371.40 126.09 369.60 127.49 C371.40 128.89 376.10 129.89 380.40 128.99" fill="none" stroke="#2c2c90" stroke-width="1.0"/>
<path d="M380.40 135.19 C376.10 134.29 371.40 135.29 369.60 136.69 C371.40 138.09 376.10 139.09 380.40 138.19" fill="none" stroke="#2c2c90" stroke-width="1.0"/>
<text transform="translate(381.90,125.91) scale(1,1.06)" y="2.79" text-anchor="start">L2</text>
<text transform="translate(382.30,141.61) scale(1,1.06)" y="2.79" text-anchor="start">L</text>
<path d="M343.93 190.18 C347.33 190.18 349.73 192.38 349.73 195.38 L349.73 215.58 C349.73 218.58 347.33 220.78 343.93 220.78" fill="none" stroke="#2c2c90" stroke-width="1.05"/>
<path d="M349.73 199.28 C345.43 198.38 340.73 199.38 338.93 200.78 C340.73 202.18 345.43 203.18 349.73 202.28" fill="none" stroke="#2c2c90" stroke-width="1.0"/>
<path d="M349.73 208.48 C345.43 207.58 340.73 208.58 338.93 209.98 C340.73 211.38 345.43 212.38 349.73 211.48" fill="none" stroke="#2c2c90" stroke-width="1.0"/>
<text transform="translate(351.63,200.60) scale(1,1.06)" y="2.79" text-anchor="start">L1</text>
<text transform="translate(351.23,215.15) scale(1,1.06)" y="2.79" text-anchor="start">L</text>
<path d="M404.50 190.18 C407.90 190.18 410.30 192.38 410.30 195.38 L410.30 215.58 C410.30 218.58 407.90 220.78 404.50 220.78" fill="none" stroke="#2c2c90" stroke-width="1.05"/>
<path d="M410.30 199.28 C406.00 198.38 401.30 199.38 399.50 200.78 C401.30 202.18 406.00 203.18 410.30 202.28" fill="none" stroke="#2c2c90" stroke-width="1.0"/>
<path d="M410.30 208.48 C406.00 207.58 401.30 208.58 399.50 209.98 C401.30 211.38 406.00 212.38 410.30 211.48" fill="none" stroke="#2c2c90" stroke-width="1.0"/>
<text transform="translate(412.60,200.00) scale(1,1.06)" y="2.79" text-anchor="start">L3</text>
<text transform="translate(415.90,214.20) scale(1,1.06)" y="2.79" text-anchor="start">L</text>
<line x1="343.93" y1="294.01" x2="343.93" y2="304.71" stroke="#2c2c90" stroke-width="1.1"/>
<line x1="343.93" y1="307.77" x2="343.93" y2="318.46" stroke="#2c2c90" stroke-width="1.1"/>
<line x1="337.82" y1="304.71" x2="350.04" y2="304.71" stroke="#2c2c90" stroke-width="1.1"/>
<line x1="337.82" y1="307.77" x2="350.04" y2="307.77" stroke="#2c2c90" stroke-width="1.1"/>
<text transform="translate(346.49,297.18) scale(1,1.06)" y="2.79" text-anchor="start">C1</text>
<text transform="translate(346.49,315.72) scale(1,1.06)" y="2.79" text-anchor="start">5.6pF</text>
<line x1="404.50" y1="294.01" x2="404.50" y2="304.71" stroke="#2c2c90" stroke-width="1.1"/>
<line x1="404.50" y1="307.77" x2="404.50" y2="318.46" stroke="#2c2c90" stroke-width="1.1"/>
<line x1="398.39" y1="304.71" x2="410.61" y2="304.71" stroke="#2c2c90" stroke-width="1.1"/>
<line x1="398.39" y1="307.77" x2="410.61" y2="307.77" stroke="#2c2c90" stroke-width="1.1"/>
<text transform="translate(407.06,297.18) scale(1,1.06)" y="2.79" text-anchor="start">C2</text>
<text transform="translate(407.06,315.72) scale(1,1.06)" y="2.79" text-anchor="start">2.7pF</text>
<line x1="453.94" y1="257.35" x2="464.63" y2="257.35" stroke="#2c2c90" stroke-width="1.1"/>
<line x1="467.69" y1="257.35" x2="478.39" y2="257.35" stroke="#2c2c90" stroke-width="1.1"/>
<line x1="464.63" y1="251.24" x2="464.63" y2="263.46" stroke="#2c2c90" stroke-width="1.1"/>
<line x1="467.69" y1="251.24" x2="467.69" y2="263.46" stroke="#2c2c90" stroke-width="1.1"/>
<text transform="translate(465.66,246.57) scale(1,1.06)" y="2.79" text-anchor="middle">C4</text>
<text transform="translate(466.06,268.77) scale(1,1.06)" y="2.79" text-anchor="middle">10pF</text>
<line x1="503.40" y1="354.93" x2="503.40" y2="365.63" stroke="#2c2c90" stroke-width="1.1"/>
<line x1="503.40" y1="368.68" x2="503.40" y2="379.38" stroke="#2c2c90" stroke-width="1.1"/>
<line x1="497.29" y1="365.63" x2="509.51" y2="365.63" stroke="#2c2c90" stroke-width="1.1"/>
<line x1="497.29" y1="368.68" x2="509.51" y2="368.68" stroke="#2c2c90" stroke-width="1.1"/>
<text transform="translate(505.36,358.30) scale(1,1.06)" y="2.79" text-anchor="start">C3</text>
<text transform="translate(505.96,376.99) scale(1,1.06)" y="2.79" text-anchor="start">10pF</text>
<polyline points="227.43,294.01 209.09,305.47" fill="none" stroke="#2c2c90" stroke-width="1.1" stroke-linejoin="miter"/>
<polyline points="209.09,300.13 209.09,324.58" fill="none" stroke="#2c2c90" stroke-width="1.3" stroke-linejoin="miter"/>
<polyline points="202.98,312.35 209.09,312.35" fill="none" stroke="#2c2c90" stroke-width="1.1" stroke-linejoin="miter"/>
<polyline points="209.09,319.23 227.43,330.69" fill="none" stroke="#2c2c90" stroke-width="1.1" stroke-linejoin="miter"/>
<polygon points="227.43,329.93 217.11,326.87 220.55,323.05" fill="none" stroke="#2c2c90" stroke-width="1.15" stroke-linejoin="miter"/>
<text transform="translate(223.87,306.25) scale(1,1.06)" y="2.79" text-anchor="start">Q1</text>
<text transform="translate(223.87,320.01) scale(1,1.06)" y="2.79" text-anchor="start">NPN</text>
<polyline points="600.93,251.26 582.59,262.72" fill="none" stroke="#2c2c90" stroke-width="1.1" stroke-linejoin="miter"/>
<polyline points="582.59,257.37 582.59,281.82" fill="none" stroke="#2c2c90" stroke-width="1.3" stroke-linejoin="miter"/>
<polyline points="576.48,269.60 582.59,269.60" fill="none" stroke="#2c2c90" stroke-width="1.1" stroke-linejoin="miter"/>
<polyline points="582.59,276.48 600.93,287.94" fill="none" stroke="#2c2c90" stroke-width="1.1" stroke-linejoin="miter"/>
<polygon points="600.93,287.17 590.61,284.12 594.05,280.30" fill="none" stroke="#2c2c90" stroke-width="1.15" stroke-linejoin="miter"/>
<text transform="translate(602.33,268.28) scale(1,1.06)" y="2.79" text-anchor="middle">Q2</text>
<text transform="translate(602.03,276.88) scale(1,1.06)" y="2.79" text-anchor="middle">NPN</text>
<line x1="116.99" y1="354.93" x2="116.99" y2="357.99" stroke="#2c2c90" stroke-width="1.1"/>
<line x1="116.99" y1="382.44" x2="116.99" y2="385.50" stroke="#2c2c90" stroke-width="1.1"/>
<circle cx="116.99" cy="370.21" r="12.23" fill="none" stroke="#2c2c90" stroke-width="1.1"/>
<line x1="113.93" y1="362.57" x2="120.05" y2="362.57" stroke="#2c2c90" stroke-width="1.1"/>
<line x1="116.99" y1="359.51" x2="116.99" y2="365.63" stroke="#2c2c90" stroke-width="1.1"/>
<line x1="113.93" y1="377.85" x2="120.05" y2="377.85" stroke="#2c2c90" stroke-width="1.1"/>
<text transform="translate(126.06,354.95) scale(1,1.06)" y="2.79" text-anchor="start">V2</text>
<text transform="translate(126.06,386.31) scale(1,1.06)" y="2.79" text-anchor="start">V</text>
<line x1="191.15" y1="373.41" x2="191.15" y2="384.11" stroke="#2c2c90" stroke-width="1.1"/>
<line x1="191.15" y1="387.17" x2="191.15" y2="397.86" stroke="#2c2c90" stroke-width="1.1"/>
<line x1="185.04" y1="384.11" x2="197.26" y2="384.11" stroke="#2c2c90" stroke-width="1.1"/>
<line x1="185.04" y1="387.17" x2="197.26" y2="387.17" stroke="#2c2c90" stroke-width="1.1"/>
<text transform="translate(193.71,377.68) scale(1,1.06)" y="2.79" text-anchor="start">C7</text>
<text transform="translate(193.71,394.57) scale(1,1.06)" y="2.79" text-anchor="start">3n</text>
<polyline points="227.43,373.41 227.43,376.47 233.34,379.52 222.22,385.64 233.34,391.75 222.22,397.86 227.43,400.92 227.43,403.98" fill="none" stroke="#2c2c90" stroke-width="1.1" stroke-linejoin="miter"/>
<text transform="translate(235.37,382.90) scale(1,1.06)" y="2.79" text-anchor="start">R1</text>
<text transform="translate(235.07,396.70) scale(1,1.06)" y="2.79" text-anchor="start">620</text>
<polyline points="649.73,172.30 652.79,172.30 655.84,166.39 661.96,177.51 668.07,166.39 674.18,177.51 677.24,172.30 680.30,172.30" fill="none" stroke="#2c2c90" stroke-width="1.1" stroke-linejoin="miter"/>
<text transform="translate(664.51,161.32) scale(1,1.06)" y="2.79" text-anchor="middle">Rload</text>
<text transform="translate(664.51,182.32) scale(1,1.06)" y="2.79" text-anchor="middle">500</text>
<polyline points="557.43,367.30 557.43,370.36 563.34,373.42 552.22,379.53 563.34,385.64 552.22,391.76 557.43,394.81 557.43,397.87" fill="none" stroke="#2c2c90" stroke-width="1.1" stroke-linejoin="miter"/>
<text transform="translate(565.37,377.09) scale(1,1.06)" y="2.79" text-anchor="start">R2</text>
<text transform="translate(566.07,390.24) scale(1,1.06)" y="2.79" text-anchor="start">1000</text>
<line x1="643.46" y1="373.41" x2="643.46" y2="384.11" stroke="#2c2c90" stroke-width="1.1"/>
<line x1="643.46" y1="387.17" x2="643.46" y2="397.86" stroke="#2c2c90" stroke-width="1.1"/>
<line x1="637.35" y1="384.11" x2="649.57" y2="384.11" stroke="#2c2c90" stroke-width="1.1"/>
<line x1="637.35" y1="387.17" x2="649.57" y2="387.17" stroke="#2c2c90" stroke-width="1.1"/>
<text transform="translate(646.02,377.08) scale(1,1.06)" y="2.79" text-anchor="start">C5</text>
<text transform="translate(647.22,394.72) scale(1,1.06)" y="2.79" text-anchor="start">1nF</text>
<polygon points="325.32,153.30 337.54,153.30 331.43,159.41" fill="none" stroke="#2a2af0" stroke-width="1.2" stroke-linejoin="miter"/>
<polygon points="717.12,183.70 729.34,183.70 723.23,189.81" fill="none" stroke="#2a2af0" stroke-width="1.2" stroke-linejoin="miter"/>
<polygon points="110.88,453.40 123.10,453.40 116.99,459.51" fill="none" stroke="#2a2af0" stroke-width="1.2" stroke-linejoin="miter"/>
<polygon points="185.04,458.82 197.26,458.82 191.15,464.93" fill="none" stroke="#2a2af0" stroke-width="1.2" stroke-linejoin="miter"/>
<polygon points="497.29,458.82 509.51,458.82 503.40,464.93" fill="none" stroke="#2a2af0" stroke-width="1.2" stroke-linejoin="miter"/>
<polygon points="368.49,477.85 380.71,477.85 374.60,483.96" fill="none" stroke="#2a2af0" stroke-width="1.2" stroke-linejoin="miter"/>
<polygon points="594.82,484.40 607.04,484.40 600.93,490.51" fill="none" stroke="#2a2af0" stroke-width="1.2" stroke-linejoin="miter"/>
<rect x="372.60" y="90.33" width="4.3" height="4.3" rx="0.7" fill="#2a2af0" stroke="none"/>
<rect x="372.60" y="175.42" width="4.3" height="4.3" rx="0.7" fill="#2a2af0" stroke="none"/>
<rect x="341.93" y="255.25" width="4.3" height="4.3" rx="0.7" fill="#2a2af0" stroke="none"/>
<rect x="402.50" y="255.25" width="4.3" height="4.3" rx="0.7" fill="#2a2af0" stroke="none"/>
<rect x="501.40" y="267.50" width="4.3" height="4.3" rx="0.7" fill="#2a2af0" stroke="none"/>
<rect x="225.43" y="352.83" width="4.3" height="4.3" rx="0.7" fill="#2a2af0" stroke="none"/>
<rect x="372.60" y="347.33" width="4.3" height="4.3" rx="0.7" fill="#2a2af0" stroke="none"/>
<rect x="372.60" y="456.72" width="4.3" height="4.3" rx="0.7" fill="#2a2af0" stroke="none"/>
<rect x="598.93" y="334.40" width="4.3" height="4.3" rx="0.7" fill="#2a2af0" stroke="none"/>
<rect x="598.93" y="456.72" width="4.3" height="4.3" rx="0.7" fill="#2a2af0" stroke="none"/>
</g>
</svg>
</body></html>
